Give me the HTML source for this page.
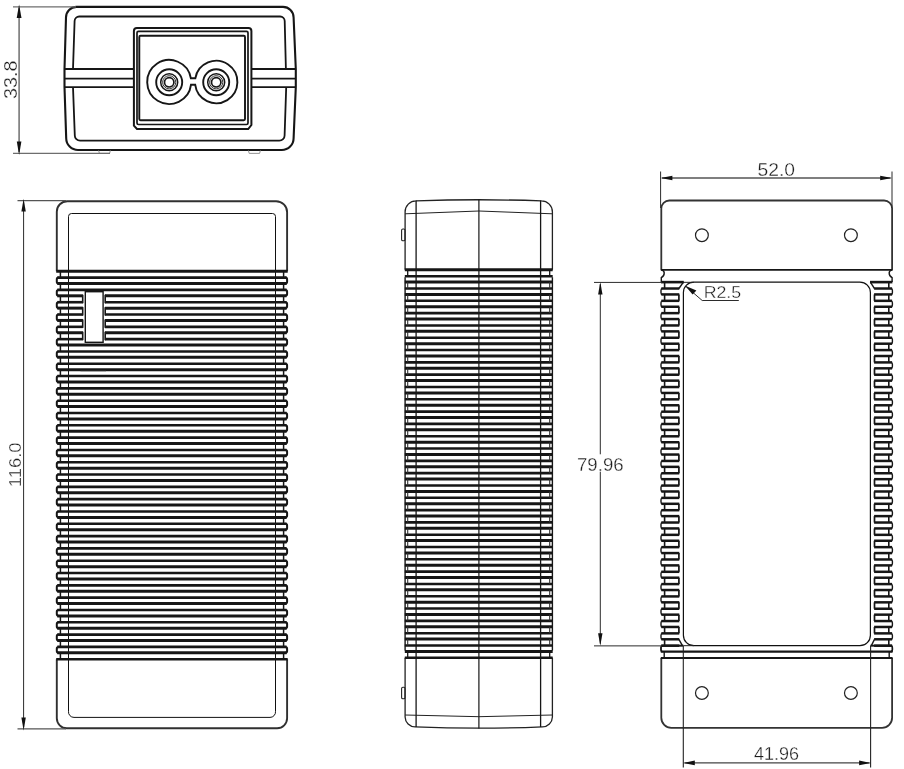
<!DOCTYPE html>
<html lang="en">
<head>
<meta charset="utf-8">
<title>Adapter outline drawing</title>
<style>
html,body{margin:0;padding:0;background:#fff;}
body{width:904px;height:769px;overflow:hidden;font-family:"Liberation Sans",sans-serif;}
svg{display:block;filter:grayscale(1);}
.t{font-family:"Liberation Sans",sans-serif;fill:#1c1c1c;stroke:#fff;stroke-width:0.3px;}
</style>
</head>
<body>
<svg width="904" height="769" viewBox="0 0 904 769">
<rect x="0" y="0" width="904" height="769" fill="#fff"/>
<path d="M76.5,6.9 L283,6.9 A10.6,10.6 0 0 1 293.6,17.5 L295.8,69 L295.8,87 L293.6,138.2 A11.8,11.8 0 0 1 281.8,150 L78,150 A11.8,11.8 0 0 1 66.2,138.2 L64.5,87 L64.5,69 L66,17.4 A10.5,10.5 0 0 1 76.5,6.9 Z" stroke="#161616" stroke-width="2.1" fill="none" />
<path d="M73,69 L74.6,21 A4.6,4.6 0 0 1 79.2,16.5 L280.2,16.5 A4.6,4.6 0 0 1 284.7,21 L285.9,69" stroke="#161616" stroke-width="1.8" fill="none" />
<path d="M73,87.2 L74.8,135.4 A5.3,5.3 0 0 0 80.1,140.7 L279.3,140.7 A5.3,5.3 0 0 0 284.6,135.4 L286.2,87.2" stroke="#161616" stroke-width="1.8" fill="none" />
<line x1="64.50" y1="69.00" x2="133.80" y2="69.00" stroke="#161616" stroke-width="1.8" />
<line x1="251.30" y1="69.00" x2="295.80" y2="69.00" stroke="#161616" stroke-width="1.8" />
<line x1="64.50" y1="78.70" x2="133.80" y2="78.70" stroke="#161616" stroke-width="1.8" />
<line x1="251.30" y1="78.70" x2="295.80" y2="78.70" stroke="#161616" stroke-width="1.8" />
<line x1="64.50" y1="87.20" x2="133.80" y2="87.20" stroke="#161616" stroke-width="1.8" />
<line x1="251.30" y1="87.20" x2="295.80" y2="87.20" stroke="#161616" stroke-width="1.8" />
<path d="M136.9,27.9 L248.4,27.9 Q251.4,27.9 251.4,30.9 L251.4,125 L248.2,129 L137,129 L133.9,125.6 L133.9,30.9 Q133.9,27.9 136.9,27.9 Z" stroke="#161616" stroke-width="2.0" fill="#fff" />
<rect x="137.0" y="31.3" width="111" height="93.2" rx="1.5" fill="none" stroke="#161616" stroke-width="1.7"/>
<rect x="139.3" y="35.8" width="105.7" height="84.5" rx="1.2" fill="none" stroke="#161616" stroke-width="1.9"/>
<path d="M190.89,78.3 L195.33,78.3 A21.2,21.2 0 1 1 195.17,84.7 L191.03,84.7 A22,22 0 1 1 190.89,78.3 Z" stroke="#161616" stroke-width="1.9" fill="none" />
<circle cx="169.2" cy="82.3" r="13" fill="none" stroke="#161616" stroke-width="1.9"/>
<circle cx="169.2" cy="82.3" r="8.5" fill="none" stroke="#161616" stroke-width="1.5"/>
<circle cx="169.2" cy="82.3" r="6.6" fill="none" stroke="#333" stroke-width="1.0"/>
<circle cx="169.2" cy="82.3" r="4.7" fill="none" stroke="#161616" stroke-width="1.7"/>
<circle cx="216.2" cy="82.3" r="13" fill="none" stroke="#161616" stroke-width="1.9"/>
<circle cx="216.2" cy="82.3" r="8.5" fill="none" stroke="#161616" stroke-width="1.5"/>
<circle cx="216.2" cy="82.3" r="6.6" fill="none" stroke="#333" stroke-width="1.0"/>
<circle cx="216.2" cy="82.3" r="4.7" fill="none" stroke="#161616" stroke-width="1.7"/>
<path d="M98.6,150.4 L99.4,153.4 L109.6,153.4 L110.4,150.4" stroke="#8a8a8a" stroke-width="0.9" fill="none" />
<path d="M248.4,150.4 L249.2,153.4 L259.6,153.4 L260.4,150.4" stroke="#8a8a8a" stroke-width="0.9" fill="none" />
<line x1="13.00" y1="6.90" x2="76.00" y2="6.90" stroke="#6e6e6e" stroke-width="1.3" />
<line x1="13.00" y1="153.30" x2="110.00" y2="153.30" stroke="#6e6e6e" stroke-width="1.3" />
<line x1="19.10" y1="8.00" x2="19.10" y2="152.00" stroke="#6e6e6e" stroke-width="1.5" />
<path d="M19.1,4.6 L21.5,18 L16.7,18 Z" fill="#111"/>
<path d="M19.1,155 L21.4,141.5 L16.8,141.5 Z" fill="#111"/>
<text class="t" font-size="18" text-anchor="middle" transform="translate(16.9,79.85) rotate(-90) scale(1.1,1)">33.8</text>
<path d="M56.8,271.2 L56.8,211.7 A10.5,10.5 0 0 1 67.3,201.2 L276.1,201.2 A11,11 0 0 1 287.1,212.2 L287.1,271.2" stroke="#303030" stroke-width="1.9" fill="none" />
<path d="M56.8,659.2000000000005 L56.8,718.3 A10,10 0 0 0 66.8,728.3 L277.1,728.3 A10,10 0 0 0 287.1,718.3 L287.1,659.2000000000005" stroke="#303030" stroke-width="1.9" fill="none" />
<path d="M68.5,711.3 L68.5,216.5 A3,3 0 0 1 71.5,213.5 L272.5,213.5 A3,3 0 0 1 275.5,216.5 L275.5,711.3 A5.5,5.5 0 0 1 270.0,717.4 L74.0,717.4 A5.5,5.5 0 0 1 68.5,711.3" stroke="#111" stroke-width="1.0" fill="none" />
<line x1="56.20" y1="271.20" x2="287.70" y2="271.20" stroke="#161616" stroke-width="3.0" />
<line x1="57.30" y1="277.59" x2="286.60" y2="277.59" stroke="#161616" stroke-width="2.6" />
<line x1="57.30" y1="283.51" x2="286.60" y2="283.51" stroke="#161616" stroke-width="3.0" />
<line x1="57.30" y1="289.90" x2="286.60" y2="289.90" stroke="#161616" stroke-width="2.6" />
<line x1="57.30" y1="295.82" x2="82.90" y2="295.82" stroke="#161616" stroke-width="3.0" />
<line x1="105.00" y1="295.82" x2="286.60" y2="295.82" stroke="#161616" stroke-width="3.0" />
<line x1="57.30" y1="302.21" x2="82.90" y2="302.21" stroke="#161616" stroke-width="2.6" />
<line x1="105.00" y1="302.21" x2="286.60" y2="302.21" stroke="#161616" stroke-width="2.6" />
<line x1="57.30" y1="308.13" x2="82.90" y2="308.13" stroke="#161616" stroke-width="3.0" />
<line x1="105.00" y1="308.13" x2="286.60" y2="308.13" stroke="#161616" stroke-width="3.0" />
<line x1="57.30" y1="314.52" x2="82.90" y2="314.52" stroke="#161616" stroke-width="2.6" />
<line x1="105.00" y1="314.52" x2="286.60" y2="314.52" stroke="#161616" stroke-width="2.6" />
<line x1="57.30" y1="320.44" x2="82.90" y2="320.44" stroke="#161616" stroke-width="3.0" />
<line x1="105.00" y1="320.44" x2="286.60" y2="320.44" stroke="#161616" stroke-width="3.0" />
<line x1="57.30" y1="326.83" x2="82.90" y2="326.83" stroke="#161616" stroke-width="2.6" />
<line x1="105.00" y1="326.83" x2="286.60" y2="326.83" stroke="#161616" stroke-width="2.6" />
<line x1="57.30" y1="332.75" x2="82.90" y2="332.75" stroke="#161616" stroke-width="3.0" />
<line x1="105.00" y1="332.75" x2="286.60" y2="332.75" stroke="#161616" stroke-width="3.0" />
<line x1="57.30" y1="339.14" x2="82.90" y2="339.14" stroke="#161616" stroke-width="2.6" />
<line x1="105.00" y1="339.14" x2="286.60" y2="339.14" stroke="#161616" stroke-width="2.6" />
<line x1="57.30" y1="345.06" x2="286.60" y2="345.06" stroke="#161616" stroke-width="3.0" />
<line x1="57.30" y1="351.45" x2="286.60" y2="351.45" stroke="#161616" stroke-width="2.6" />
<line x1="57.30" y1="357.37" x2="286.60" y2="357.37" stroke="#161616" stroke-width="3.0" />
<line x1="57.30" y1="363.76" x2="286.60" y2="363.76" stroke="#161616" stroke-width="2.6" />
<line x1="57.30" y1="369.68" x2="286.60" y2="369.68" stroke="#161616" stroke-width="3.0" />
<line x1="57.30" y1="376.07" x2="286.60" y2="376.07" stroke="#161616" stroke-width="2.6" />
<line x1="57.30" y1="381.99" x2="286.60" y2="381.99" stroke="#161616" stroke-width="3.0" />
<line x1="57.30" y1="388.38" x2="286.60" y2="388.38" stroke="#161616" stroke-width="2.6" />
<line x1="57.30" y1="394.30" x2="286.60" y2="394.30" stroke="#161616" stroke-width="3.0" />
<line x1="57.30" y1="400.69" x2="286.60" y2="400.69" stroke="#161616" stroke-width="2.6" />
<line x1="57.30" y1="406.61" x2="286.60" y2="406.61" stroke="#161616" stroke-width="3.0" />
<line x1="57.30" y1="413.00" x2="286.60" y2="413.00" stroke="#161616" stroke-width="2.6" />
<line x1="57.30" y1="418.92" x2="286.60" y2="418.92" stroke="#161616" stroke-width="3.0" />
<line x1="57.30" y1="425.31" x2="286.60" y2="425.31" stroke="#161616" stroke-width="2.6" />
<line x1="57.30" y1="431.23" x2="286.60" y2="431.23" stroke="#161616" stroke-width="3.0" />
<line x1="57.30" y1="437.62" x2="286.60" y2="437.62" stroke="#161616" stroke-width="2.6" />
<line x1="57.30" y1="443.54" x2="286.60" y2="443.54" stroke="#161616" stroke-width="3.0" />
<line x1="57.30" y1="449.93" x2="286.60" y2="449.93" stroke="#161616" stroke-width="2.6" />
<line x1="57.30" y1="455.85" x2="286.60" y2="455.85" stroke="#161616" stroke-width="3.0" />
<line x1="57.30" y1="462.24" x2="286.60" y2="462.24" stroke="#161616" stroke-width="2.6" />
<line x1="57.30" y1="468.16" x2="286.60" y2="468.16" stroke="#161616" stroke-width="3.0" />
<line x1="57.30" y1="474.55" x2="286.60" y2="474.55" stroke="#161616" stroke-width="2.6" />
<line x1="57.30" y1="480.47" x2="286.60" y2="480.47" stroke="#161616" stroke-width="3.0" />
<line x1="57.30" y1="486.86" x2="286.60" y2="486.86" stroke="#161616" stroke-width="2.6" />
<line x1="57.30" y1="492.78" x2="286.60" y2="492.78" stroke="#161616" stroke-width="3.0" />
<line x1="57.30" y1="499.17" x2="286.60" y2="499.17" stroke="#161616" stroke-width="2.6" />
<line x1="57.30" y1="505.09" x2="286.60" y2="505.09" stroke="#161616" stroke-width="3.0" />
<line x1="57.30" y1="511.48" x2="286.60" y2="511.48" stroke="#161616" stroke-width="2.6" />
<line x1="57.30" y1="517.40" x2="286.60" y2="517.40" stroke="#161616" stroke-width="3.0" />
<line x1="57.30" y1="523.79" x2="286.60" y2="523.79" stroke="#161616" stroke-width="2.6" />
<line x1="57.30" y1="529.71" x2="286.60" y2="529.71" stroke="#161616" stroke-width="3.0" />
<line x1="57.30" y1="536.10" x2="286.60" y2="536.10" stroke="#161616" stroke-width="2.6" />
<line x1="57.30" y1="542.02" x2="286.60" y2="542.02" stroke="#161616" stroke-width="3.0" />
<line x1="57.30" y1="548.41" x2="286.60" y2="548.41" stroke="#161616" stroke-width="2.6" />
<line x1="57.30" y1="554.33" x2="286.60" y2="554.33" stroke="#161616" stroke-width="3.0" />
<line x1="57.30" y1="560.72" x2="286.60" y2="560.72" stroke="#161616" stroke-width="2.6" />
<line x1="57.30" y1="566.64" x2="286.60" y2="566.64" stroke="#161616" stroke-width="3.0" />
<line x1="57.30" y1="573.03" x2="286.60" y2="573.03" stroke="#161616" stroke-width="2.6" />
<line x1="57.30" y1="578.95" x2="286.60" y2="578.95" stroke="#161616" stroke-width="3.0" />
<line x1="57.30" y1="585.34" x2="286.60" y2="585.34" stroke="#161616" stroke-width="2.6" />
<line x1="57.30" y1="591.26" x2="286.60" y2="591.26" stroke="#161616" stroke-width="3.0" />
<line x1="57.30" y1="597.65" x2="286.60" y2="597.65" stroke="#161616" stroke-width="2.6" />
<line x1="57.30" y1="603.57" x2="286.60" y2="603.57" stroke="#161616" stroke-width="3.0" />
<line x1="57.30" y1="609.96" x2="286.60" y2="609.96" stroke="#161616" stroke-width="2.6" />
<line x1="57.30" y1="615.88" x2="286.60" y2="615.88" stroke="#161616" stroke-width="3.0" />
<line x1="57.30" y1="622.27" x2="286.60" y2="622.27" stroke="#161616" stroke-width="2.6" />
<line x1="57.30" y1="628.19" x2="286.60" y2="628.19" stroke="#161616" stroke-width="3.0" />
<line x1="57.30" y1="634.58" x2="286.60" y2="634.58" stroke="#161616" stroke-width="2.6" />
<line x1="57.30" y1="640.50" x2="286.60" y2="640.50" stroke="#161616" stroke-width="3.0" />
<line x1="57.30" y1="646.89" x2="286.60" y2="646.89" stroke="#161616" stroke-width="2.6" />
<line x1="57.30" y1="652.81" x2="286.60" y2="652.81" stroke="#161616" stroke-width="3.0" />
<line x1="56.20" y1="659.20" x2="287.70" y2="659.20" stroke="#161616" stroke-width="2.6" />
<line x1="82.70" y1="294.82" x2="82.70" y2="303.21" stroke="#161616" stroke-width="1.6" />
<line x1="105.20" y1="294.82" x2="105.20" y2="303.21" stroke="#161616" stroke-width="1.6" />
<line x1="82.70" y1="307.13" x2="82.70" y2="315.52" stroke="#161616" stroke-width="1.6" />
<line x1="105.20" y1="307.13" x2="105.20" y2="315.52" stroke="#161616" stroke-width="1.6" />
<line x1="82.70" y1="319.44" x2="82.70" y2="327.83" stroke="#161616" stroke-width="1.6" />
<line x1="105.20" y1="319.44" x2="105.20" y2="327.83" stroke="#161616" stroke-width="1.6" />
<line x1="82.70" y1="331.75" x2="82.70" y2="340.14" stroke="#161616" stroke-width="1.6" />
<line x1="105.20" y1="331.75" x2="105.20" y2="340.14" stroke="#161616" stroke-width="1.6" />
<rect x="85.3" y="291.7" width="17.799999999999997" height="50.6" fill="#fff" stroke="#161616" stroke-width="1.4"/>
<line x1="60.40" y1="271.20" x2="60.40" y2="277.59" stroke="#161616" stroke-width="1.5" />
<line x1="283.60" y1="271.20" x2="283.60" y2="277.59" stroke="#161616" stroke-width="1.5" />
<path d="M58.599999999999994,277.58962509327637 Q56.8,277.58962509327637 56.8,279.3896250932764 L56.8,281.7100120937653 Q56.8,283.5100120937653 58.599999999999994,283.5100120937653" stroke="#161616" stroke-width="2.0" fill="none" />
<path d="M285.3,277.58962509327637 Q287.1,277.58962509327637 287.1,279.3896250932764 L287.1,281.7100120937653 Q287.1,283.5100120937653 285.3,283.5100120937653" stroke="#161616" stroke-width="2.0" fill="none" />
<line x1="60.40" y1="283.51" x2="60.40" y2="289.90" stroke="#161616" stroke-width="1.5" />
<line x1="283.60" y1="283.51" x2="283.60" y2="289.90" stroke="#161616" stroke-width="1.5" />
<path d="M58.599999999999994,289.89963718704166 Q56.8,289.89963718704166 56.8,291.6996371870417 L56.8,294.02002418753057 Q56.8,295.8200241875306 58.599999999999994,295.8200241875306" stroke="#161616" stroke-width="2.0" fill="none" />
<path d="M285.3,289.89963718704166 Q287.1,289.89963718704166 287.1,291.6996371870417 L287.1,294.02002418753057 Q287.1,295.8200241875306 285.3,295.8200241875306" stroke="#161616" stroke-width="2.0" fill="none" />
<line x1="60.40" y1="295.82" x2="60.40" y2="302.21" stroke="#161616" stroke-width="1.5" />
<line x1="283.60" y1="295.82" x2="283.60" y2="302.21" stroke="#161616" stroke-width="1.5" />
<path d="M58.599999999999994,302.20964928080696 Q56.8,302.20964928080696 56.8,304.00964928080697 L56.8,306.33003628129586 Q56.8,308.1300362812959 58.599999999999994,308.1300362812959" stroke="#161616" stroke-width="2.0" fill="none" />
<path d="M285.3,302.20964928080696 Q287.1,302.20964928080696 287.1,304.00964928080697 L287.1,306.33003628129586 Q287.1,308.1300362812959 285.3,308.1300362812959" stroke="#161616" stroke-width="2.0" fill="none" />
<line x1="60.40" y1="308.13" x2="60.40" y2="314.52" stroke="#161616" stroke-width="1.5" />
<line x1="283.60" y1="308.13" x2="283.60" y2="314.52" stroke="#161616" stroke-width="1.5" />
<path d="M58.599999999999994,314.51966137457225 Q56.8,314.51966137457225 56.8,316.31966137457226 L56.8,318.64004837506116 Q56.8,320.44004837506117 58.599999999999994,320.44004837506117" stroke="#161616" stroke-width="2.0" fill="none" />
<path d="M285.3,314.51966137457225 Q287.1,314.51966137457225 287.1,316.31966137457226 L287.1,318.64004837506116 Q287.1,320.44004837506117 285.3,320.44004837506117" stroke="#161616" stroke-width="2.0" fill="none" />
<line x1="60.40" y1="320.44" x2="60.40" y2="326.83" stroke="#161616" stroke-width="1.5" />
<line x1="283.60" y1="320.44" x2="283.60" y2="326.83" stroke="#161616" stroke-width="1.5" />
<path d="M58.599999999999994,326.82967346833755 Q56.8,326.82967346833755 56.8,328.62967346833756 L56.8,330.95006046882645 Q56.8,332.75006046882646 58.599999999999994,332.75006046882646" stroke="#161616" stroke-width="2.0" fill="none" />
<path d="M285.3,326.82967346833755 Q287.1,326.82967346833755 287.1,328.62967346833756 L287.1,330.95006046882645 Q287.1,332.75006046882646 285.3,332.75006046882646" stroke="#161616" stroke-width="2.0" fill="none" />
<line x1="60.40" y1="332.75" x2="60.40" y2="339.14" stroke="#161616" stroke-width="1.5" />
<line x1="283.60" y1="332.75" x2="283.60" y2="339.14" stroke="#161616" stroke-width="1.5" />
<path d="M58.599999999999994,339.13968556210284 Q56.8,339.13968556210284 56.8,340.93968556210285 L56.8,343.26007256259174 Q56.8,345.06007256259176 58.599999999999994,345.06007256259176" stroke="#161616" stroke-width="2.0" fill="none" />
<path d="M285.3,339.13968556210284 Q287.1,339.13968556210284 287.1,340.93968556210285 L287.1,343.26007256259174 Q287.1,345.06007256259176 285.3,345.06007256259176" stroke="#161616" stroke-width="2.0" fill="none" />
<line x1="60.40" y1="345.06" x2="60.40" y2="351.45" stroke="#161616" stroke-width="1.5" />
<line x1="283.60" y1="345.06" x2="283.60" y2="351.45" stroke="#161616" stroke-width="1.5" />
<path d="M58.599999999999994,351.44969765586814 Q56.8,351.44969765586814 56.8,353.24969765586815 L56.8,355.57008465635704 Q56.8,357.37008465635705 58.599999999999994,357.37008465635705" stroke="#161616" stroke-width="2.0" fill="none" />
<path d="M285.3,351.44969765586814 Q287.1,351.44969765586814 287.1,353.24969765586815 L287.1,355.57008465635704 Q287.1,357.37008465635705 285.3,357.37008465635705" stroke="#161616" stroke-width="2.0" fill="none" />
<line x1="60.40" y1="357.37" x2="60.40" y2="363.76" stroke="#161616" stroke-width="1.5" />
<line x1="283.60" y1="357.37" x2="283.60" y2="363.76" stroke="#161616" stroke-width="1.5" />
<path d="M58.599999999999994,363.75970974963343 Q56.8,363.75970974963343 56.8,365.55970974963344 L56.8,367.88009675012233 Q56.8,369.68009675012235 58.599999999999994,369.68009675012235" stroke="#161616" stroke-width="2.0" fill="none" />
<path d="M285.3,363.75970974963343 Q287.1,363.75970974963343 287.1,365.55970974963344 L287.1,367.88009675012233 Q287.1,369.68009675012235 285.3,369.68009675012235" stroke="#161616" stroke-width="2.0" fill="none" />
<line x1="60.40" y1="369.68" x2="60.40" y2="376.07" stroke="#161616" stroke-width="1.5" />
<line x1="283.60" y1="369.68" x2="283.60" y2="376.07" stroke="#161616" stroke-width="1.5" />
<path d="M58.599999999999994,376.0697218433987 Q56.8,376.0697218433987 56.8,377.86972184339874 L56.8,380.19010884388763 Q56.8,381.99010884388764 58.599999999999994,381.99010884388764" stroke="#161616" stroke-width="2.0" fill="none" />
<path d="M285.3,376.0697218433987 Q287.1,376.0697218433987 287.1,377.86972184339874 L287.1,380.19010884388763 Q287.1,381.99010884388764 285.3,381.99010884388764" stroke="#161616" stroke-width="2.0" fill="none" />
<line x1="60.40" y1="381.99" x2="60.40" y2="388.38" stroke="#161616" stroke-width="1.5" />
<line x1="283.60" y1="381.99" x2="283.60" y2="388.38" stroke="#161616" stroke-width="1.5" />
<path d="M58.599999999999994,388.379733937164 Q56.8,388.379733937164 56.8,390.17973393716403 L56.8,392.5001209376529 Q56.8,394.30012093765293 58.599999999999994,394.30012093765293" stroke="#161616" stroke-width="2.0" fill="none" />
<path d="M285.3,388.379733937164 Q287.1,388.379733937164 287.1,390.17973393716403 L287.1,392.5001209376529 Q287.1,394.30012093765293 285.3,394.30012093765293" stroke="#161616" stroke-width="2.0" fill="none" />
<line x1="60.40" y1="394.30" x2="60.40" y2="400.69" stroke="#161616" stroke-width="1.5" />
<line x1="283.60" y1="394.30" x2="283.60" y2="400.69" stroke="#161616" stroke-width="1.5" />
<path d="M58.599999999999994,400.6897460309293 Q56.8,400.6897460309293 56.8,402.4897460309293 L56.8,404.8101330314182 Q56.8,406.61013303141823 58.599999999999994,406.61013303141823" stroke="#161616" stroke-width="2.0" fill="none" />
<path d="M285.3,400.6897460309293 Q287.1,400.6897460309293 287.1,402.4897460309293 L287.1,404.8101330314182 Q287.1,406.61013303141823 285.3,406.61013303141823" stroke="#161616" stroke-width="2.0" fill="none" />
<line x1="60.40" y1="406.61" x2="60.40" y2="413.00" stroke="#161616" stroke-width="1.5" />
<line x1="283.60" y1="406.61" x2="283.60" y2="413.00" stroke="#161616" stroke-width="1.5" />
<path d="M58.599999999999994,412.9997581246946 Q56.8,412.9997581246946 56.8,414.7997581246946 L56.8,417.1201451251835 Q56.8,418.9201451251835 58.599999999999994,418.9201451251835" stroke="#161616" stroke-width="2.0" fill="none" />
<path d="M285.3,412.9997581246946 Q287.1,412.9997581246946 287.1,414.7997581246946 L287.1,417.1201451251835 Q287.1,418.9201451251835 285.3,418.9201451251835" stroke="#161616" stroke-width="2.0" fill="none" />
<line x1="60.40" y1="418.92" x2="60.40" y2="425.31" stroke="#161616" stroke-width="1.5" />
<line x1="283.60" y1="418.92" x2="283.60" y2="425.31" stroke="#161616" stroke-width="1.5" />
<path d="M58.599999999999994,425.3097702184599 Q56.8,425.3097702184599 56.8,427.1097702184599 L56.8,429.4301572189488 Q56.8,431.2301572189488 58.599999999999994,431.2301572189488" stroke="#161616" stroke-width="2.0" fill="none" />
<path d="M285.3,425.3097702184599 Q287.1,425.3097702184599 287.1,427.1097702184599 L287.1,429.4301572189488 Q287.1,431.2301572189488 285.3,431.2301572189488" stroke="#161616" stroke-width="2.0" fill="none" />
<line x1="60.40" y1="431.23" x2="60.40" y2="437.62" stroke="#161616" stroke-width="1.5" />
<line x1="283.60" y1="431.23" x2="283.60" y2="437.62" stroke="#161616" stroke-width="1.5" />
<path d="M58.599999999999994,437.6197823122252 Q56.8,437.6197823122252 56.8,439.4197823122252 L56.8,441.7401693127141 Q56.8,443.5401693127141 58.599999999999994,443.5401693127141" stroke="#161616" stroke-width="2.0" fill="none" />
<path d="M285.3,437.6197823122252 Q287.1,437.6197823122252 287.1,439.4197823122252 L287.1,441.7401693127141 Q287.1,443.5401693127141 285.3,443.5401693127141" stroke="#161616" stroke-width="2.0" fill="none" />
<line x1="60.40" y1="443.54" x2="60.40" y2="449.93" stroke="#161616" stroke-width="1.5" />
<line x1="283.60" y1="443.54" x2="283.60" y2="449.93" stroke="#161616" stroke-width="1.5" />
<path d="M58.599999999999994,449.9297944059905 Q56.8,449.9297944059905 56.8,451.7297944059905 L56.8,454.0501814064794 Q56.8,455.8501814064794 58.599999999999994,455.8501814064794" stroke="#161616" stroke-width="2.0" fill="none" />
<path d="M285.3,449.9297944059905 Q287.1,449.9297944059905 287.1,451.7297944059905 L287.1,454.0501814064794 Q287.1,455.8501814064794 285.3,455.8501814064794" stroke="#161616" stroke-width="2.0" fill="none" />
<line x1="60.40" y1="455.85" x2="60.40" y2="462.24" stroke="#161616" stroke-width="1.5" />
<line x1="283.60" y1="455.85" x2="283.60" y2="462.24" stroke="#161616" stroke-width="1.5" />
<path d="M58.599999999999994,462.2398064997558 Q56.8,462.2398064997558 56.8,464.0398064997558 L56.8,466.3601935002447 Q56.8,468.1601935002447 58.599999999999994,468.1601935002447" stroke="#161616" stroke-width="2.0" fill="none" />
<path d="M285.3,462.2398064997558 Q287.1,462.2398064997558 287.1,464.0398064997558 L287.1,466.3601935002447 Q287.1,468.1601935002447 285.3,468.1601935002447" stroke="#161616" stroke-width="2.0" fill="none" />
<line x1="60.40" y1="468.16" x2="60.40" y2="474.55" stroke="#161616" stroke-width="1.5" />
<line x1="283.60" y1="468.16" x2="283.60" y2="474.55" stroke="#161616" stroke-width="1.5" />
<path d="M58.599999999999994,474.5498185935211 Q56.8,474.5498185935211 56.8,476.3498185935211 L56.8,478.67020559401 Q56.8,480.47020559401 58.599999999999994,480.47020559401" stroke="#161616" stroke-width="2.0" fill="none" />
<path d="M285.3,474.5498185935211 Q287.1,474.5498185935211 287.1,476.3498185935211 L287.1,478.67020559401 Q287.1,480.47020559401 285.3,480.47020559401" stroke="#161616" stroke-width="2.0" fill="none" />
<line x1="60.40" y1="480.47" x2="60.40" y2="486.86" stroke="#161616" stroke-width="1.5" />
<line x1="283.60" y1="480.47" x2="283.60" y2="486.86" stroke="#161616" stroke-width="1.5" />
<path d="M58.599999999999994,486.8598306872864 Q56.8,486.8598306872864 56.8,488.6598306872864 L56.8,490.9802176877753 Q56.8,492.7802176877753 58.599999999999994,492.7802176877753" stroke="#161616" stroke-width="2.0" fill="none" />
<path d="M285.3,486.8598306872864 Q287.1,486.8598306872864 287.1,488.6598306872864 L287.1,490.9802176877753 Q287.1,492.7802176877753 285.3,492.7802176877753" stroke="#161616" stroke-width="2.0" fill="none" />
<line x1="60.40" y1="492.78" x2="60.40" y2="499.17" stroke="#161616" stroke-width="1.5" />
<line x1="283.60" y1="492.78" x2="283.60" y2="499.17" stroke="#161616" stroke-width="1.5" />
<path d="M58.599999999999994,499.16984278105167 Q56.8,499.16984278105167 56.8,500.9698427810517 L56.8,503.2902297815406 Q56.8,505.0902297815406 58.599999999999994,505.0902297815406" stroke="#161616" stroke-width="2.0" fill="none" />
<path d="M285.3,499.16984278105167 Q287.1,499.16984278105167 287.1,500.9698427810517 L287.1,503.2902297815406 Q287.1,505.0902297815406 285.3,505.0902297815406" stroke="#161616" stroke-width="2.0" fill="none" />
<line x1="60.40" y1="505.09" x2="60.40" y2="511.48" stroke="#161616" stroke-width="1.5" />
<line x1="283.60" y1="505.09" x2="283.60" y2="511.48" stroke="#161616" stroke-width="1.5" />
<path d="M58.599999999999994,511.47985487481697 Q56.8,511.47985487481697 56.8,513.2798548748169 L56.8,515.6002418753059 Q56.8,517.4002418753058 58.599999999999994,517.4002418753058" stroke="#161616" stroke-width="2.0" fill="none" />
<path d="M285.3,511.47985487481697 Q287.1,511.47985487481697 287.1,513.2798548748169 L287.1,515.6002418753059 Q287.1,517.4002418753058 285.3,517.4002418753058" stroke="#161616" stroke-width="2.0" fill="none" />
<line x1="60.40" y1="517.40" x2="60.40" y2="523.79" stroke="#161616" stroke-width="1.5" />
<line x1="283.60" y1="517.40" x2="283.60" y2="523.79" stroke="#161616" stroke-width="1.5" />
<path d="M58.599999999999994,523.7898669685823 Q56.8,523.7898669685823 56.8,525.5898669685822 L56.8,527.9102539690712 Q56.8,529.7102539690711 58.599999999999994,529.7102539690711" stroke="#161616" stroke-width="2.0" fill="none" />
<path d="M285.3,523.7898669685823 Q287.1,523.7898669685823 287.1,525.5898669685822 L287.1,527.9102539690712 Q287.1,529.7102539690711 285.3,529.7102539690711" stroke="#161616" stroke-width="2.0" fill="none" />
<line x1="60.40" y1="529.71" x2="60.40" y2="536.10" stroke="#161616" stroke-width="1.5" />
<line x1="283.60" y1="529.71" x2="283.60" y2="536.10" stroke="#161616" stroke-width="1.5" />
<path d="M58.599999999999994,536.0998790623476 Q56.8,536.0998790623476 56.8,537.8998790623475 L56.8,540.2202660628365 Q56.8,542.0202660628364 58.599999999999994,542.0202660628364" stroke="#161616" stroke-width="2.0" fill="none" />
<path d="M285.3,536.0998790623476 Q287.1,536.0998790623476 287.1,537.8998790623475 L287.1,540.2202660628365 Q287.1,542.0202660628364 285.3,542.0202660628364" stroke="#161616" stroke-width="2.0" fill="none" />
<line x1="60.40" y1="542.02" x2="60.40" y2="548.41" stroke="#161616" stroke-width="1.5" />
<line x1="283.60" y1="542.02" x2="283.60" y2="548.41" stroke="#161616" stroke-width="1.5" />
<path d="M58.599999999999994,548.4098911561128 Q56.8,548.4098911561128 56.8,550.2098911561128 L56.8,552.5302781566018 Q56.8,554.3302781566017 58.599999999999994,554.3302781566017" stroke="#161616" stroke-width="2.0" fill="none" />
<path d="M285.3,548.4098911561128 Q287.1,548.4098911561128 287.1,550.2098911561128 L287.1,552.5302781566018 Q287.1,554.3302781566017 285.3,554.3302781566017" stroke="#161616" stroke-width="2.0" fill="none" />
<line x1="60.40" y1="554.33" x2="60.40" y2="560.72" stroke="#161616" stroke-width="1.5" />
<line x1="283.60" y1="554.33" x2="283.60" y2="560.72" stroke="#161616" stroke-width="1.5" />
<path d="M58.599999999999994,560.7199032498781 Q56.8,560.7199032498781 56.8,562.5199032498781 L56.8,564.840290250367 Q56.8,566.640290250367 58.599999999999994,566.640290250367" stroke="#161616" stroke-width="2.0" fill="none" />
<path d="M285.3,560.7199032498781 Q287.1,560.7199032498781 287.1,562.5199032498781 L287.1,564.840290250367 Q287.1,566.640290250367 285.3,566.640290250367" stroke="#161616" stroke-width="2.0" fill="none" />
<line x1="60.40" y1="566.64" x2="60.40" y2="573.03" stroke="#161616" stroke-width="1.5" />
<line x1="283.60" y1="566.64" x2="283.60" y2="573.03" stroke="#161616" stroke-width="1.5" />
<path d="M58.599999999999994,573.0299153436434 Q56.8,573.0299153436434 56.8,574.8299153436434 L56.8,577.1503023441323 Q56.8,578.9503023441323 58.599999999999994,578.9503023441323" stroke="#161616" stroke-width="2.0" fill="none" />
<path d="M285.3,573.0299153436434 Q287.1,573.0299153436434 287.1,574.8299153436434 L287.1,577.1503023441323 Q287.1,578.9503023441323 285.3,578.9503023441323" stroke="#161616" stroke-width="2.0" fill="none" />
<line x1="60.40" y1="578.95" x2="60.40" y2="585.34" stroke="#161616" stroke-width="1.5" />
<line x1="283.60" y1="578.95" x2="283.60" y2="585.34" stroke="#161616" stroke-width="1.5" />
<path d="M58.599999999999994,585.3399274374087 Q56.8,585.3399274374087 56.8,587.1399274374087 L56.8,589.4603144378976 Q56.8,591.2603144378976 58.599999999999994,591.2603144378976" stroke="#161616" stroke-width="2.0" fill="none" />
<path d="M285.3,585.3399274374087 Q287.1,585.3399274374087 287.1,587.1399274374087 L287.1,589.4603144378976 Q287.1,591.2603144378976 285.3,591.2603144378976" stroke="#161616" stroke-width="2.0" fill="none" />
<line x1="60.40" y1="591.26" x2="60.40" y2="597.65" stroke="#161616" stroke-width="1.5" />
<line x1="283.60" y1="591.26" x2="283.60" y2="597.65" stroke="#161616" stroke-width="1.5" />
<path d="M58.599999999999994,597.649939531174 Q56.8,597.649939531174 56.8,599.449939531174 L56.8,601.7703265316629 Q56.8,603.5703265316629 58.599999999999994,603.5703265316629" stroke="#161616" stroke-width="2.0" fill="none" />
<path d="M285.3,597.649939531174 Q287.1,597.649939531174 287.1,599.449939531174 L287.1,601.7703265316629 Q287.1,603.5703265316629 285.3,603.5703265316629" stroke="#161616" stroke-width="2.0" fill="none" />
<line x1="60.40" y1="603.57" x2="60.40" y2="609.96" stroke="#161616" stroke-width="1.5" />
<line x1="283.60" y1="603.57" x2="283.60" y2="609.96" stroke="#161616" stroke-width="1.5" />
<path d="M58.599999999999994,609.9599516249393 Q56.8,609.9599516249393 56.8,611.7599516249393 L56.8,614.0803386254282 Q56.8,615.8803386254282 58.599999999999994,615.8803386254282" stroke="#161616" stroke-width="2.0" fill="none" />
<path d="M285.3,609.9599516249393 Q287.1,609.9599516249393 287.1,611.7599516249393 L287.1,614.0803386254282 Q287.1,615.8803386254282 285.3,615.8803386254282" stroke="#161616" stroke-width="2.0" fill="none" />
<line x1="60.40" y1="615.88" x2="60.40" y2="622.27" stroke="#161616" stroke-width="1.5" />
<line x1="283.60" y1="615.88" x2="283.60" y2="622.27" stroke="#161616" stroke-width="1.5" />
<path d="M58.599999999999994,622.2699637187046 Q56.8,622.2699637187046 56.8,624.0699637187046 L56.8,626.3903507191935 Q56.8,628.1903507191935 58.599999999999994,628.1903507191935" stroke="#161616" stroke-width="2.0" fill="none" />
<path d="M285.3,622.2699637187046 Q287.1,622.2699637187046 287.1,624.0699637187046 L287.1,626.3903507191935 Q287.1,628.1903507191935 285.3,628.1903507191935" stroke="#161616" stroke-width="2.0" fill="none" />
<line x1="60.40" y1="628.19" x2="60.40" y2="634.58" stroke="#161616" stroke-width="1.5" />
<line x1="283.60" y1="628.19" x2="283.60" y2="634.58" stroke="#161616" stroke-width="1.5" />
<path d="M58.599999999999994,634.5799758124699 Q56.8,634.5799758124699 56.8,636.3799758124699 L56.8,638.7003628129588 Q56.8,640.5003628129588 58.599999999999994,640.5003628129588" stroke="#161616" stroke-width="2.0" fill="none" />
<path d="M285.3,634.5799758124699 Q287.1,634.5799758124699 287.1,636.3799758124699 L287.1,638.7003628129588 Q287.1,640.5003628129588 285.3,640.5003628129588" stroke="#161616" stroke-width="2.0" fill="none" />
<line x1="60.40" y1="640.50" x2="60.40" y2="646.89" stroke="#161616" stroke-width="1.5" />
<line x1="283.60" y1="640.50" x2="283.60" y2="646.89" stroke="#161616" stroke-width="1.5" />
<path d="M58.599999999999994,646.8899879062352 Q56.8,646.8899879062352 56.8,648.6899879062352 L56.8,651.0103749067241 Q56.8,652.8103749067241 58.599999999999994,652.8103749067241" stroke="#161616" stroke-width="2.0" fill="none" />
<path d="M285.3,646.8899879062352 Q287.1,646.8899879062352 287.1,648.6899879062352 L287.1,651.0103749067241 Q287.1,652.8103749067241 285.3,652.8103749067241" stroke="#161616" stroke-width="2.0" fill="none" />
<line x1="60.40" y1="652.81" x2="60.40" y2="659.20" stroke="#161616" stroke-width="1.5" />
<line x1="283.60" y1="652.81" x2="283.60" y2="659.20" stroke="#161616" stroke-width="1.5" />
<line x1="80.50" y1="371.40" x2="106.00" y2="371.40" stroke="#a0a0a0" stroke-width="1.0" />
<line x1="17.50" y1="200.70" x2="66.00" y2="200.70" stroke="#555" stroke-width="1.2" />
<line x1="17.50" y1="728.80" x2="66.00" y2="728.80" stroke="#555" stroke-width="1.2" />
<line x1="23.60" y1="202.00" x2="23.60" y2="727.00" stroke="#2b2b2b" stroke-width="1.0" />
<path d="M23.6,198.8 L25.8,211.5 L21.4,211.5 Z" fill="#111"/>
<path d="M23.6,730.4 L25.8,717.5 L21.4,717.5 Z" fill="#111"/>
<text class="t" font-size="16.5" text-anchor="middle" transform="translate(21.1,464.8) rotate(-90) scale(1.12,1)">116.0</text>
<path d="M405.1,269.8 L405.1,212 A11,11 0 0 1 416.1,200.9 Q478.9,198.6 541.4,200.9 A11,11 0 0 1 552.4,212 L552.4,269.8" stroke="#222" stroke-width="1.3" fill="none" />
<path d="M405.1,213.8 L478.9,211 L552.4,213.8" stroke="#222" stroke-width="1.0" fill="none" />
<path d="M405.1,657.8000000000005 L405.1,717 A10,10 0 0 0 415.1,726.8 Q478.9,729.6 542.4,726.8 A10,10 0 0 0 552.4,717 L552.4,657.8000000000005" stroke="#222" stroke-width="1.3" fill="none" />
<path d="M405.1,715 L478.9,716.7 L552.4,715" stroke="#222" stroke-width="1.0" fill="none" />
<line x1="416.10" y1="200.60" x2="416.10" y2="727.00" stroke="#161616" stroke-width="1.3" />
<line x1="478.90" y1="199.40" x2="478.90" y2="728.40" stroke="#161616" stroke-width="1.2" />
<line x1="540.60" y1="200.60" x2="540.60" y2="727.00" stroke="#161616" stroke-width="1.3" />
<line x1="404.80" y1="269.80" x2="552.70" y2="269.80" stroke="#161616" stroke-width="3.0" />
<line x1="404.80" y1="276.19" x2="552.70" y2="276.19" stroke="#161616" stroke-width="2.6" />
<line x1="404.80" y1="282.11" x2="552.70" y2="282.11" stroke="#161616" stroke-width="3.0" />
<line x1="404.80" y1="288.50" x2="552.70" y2="288.50" stroke="#161616" stroke-width="2.6" />
<line x1="404.80" y1="294.42" x2="552.70" y2="294.42" stroke="#161616" stroke-width="3.0" />
<line x1="404.80" y1="300.81" x2="552.70" y2="300.81" stroke="#161616" stroke-width="2.6" />
<line x1="404.80" y1="306.73" x2="552.70" y2="306.73" stroke="#161616" stroke-width="3.0" />
<line x1="404.80" y1="313.12" x2="552.70" y2="313.12" stroke="#161616" stroke-width="2.6" />
<line x1="404.80" y1="319.04" x2="552.70" y2="319.04" stroke="#161616" stroke-width="3.0" />
<line x1="404.80" y1="325.43" x2="552.70" y2="325.43" stroke="#161616" stroke-width="2.6" />
<line x1="404.80" y1="331.35" x2="552.70" y2="331.35" stroke="#161616" stroke-width="3.0" />
<line x1="404.80" y1="337.74" x2="552.70" y2="337.74" stroke="#161616" stroke-width="2.6" />
<line x1="404.80" y1="343.66" x2="552.70" y2="343.66" stroke="#161616" stroke-width="3.0" />
<line x1="404.80" y1="350.05" x2="552.70" y2="350.05" stroke="#161616" stroke-width="2.6" />
<line x1="404.80" y1="355.97" x2="552.70" y2="355.97" stroke="#161616" stroke-width="3.0" />
<line x1="404.80" y1="362.36" x2="552.70" y2="362.36" stroke="#161616" stroke-width="2.6" />
<line x1="404.80" y1="368.28" x2="552.70" y2="368.28" stroke="#161616" stroke-width="3.0" />
<line x1="404.80" y1="374.67" x2="552.70" y2="374.67" stroke="#161616" stroke-width="2.6" />
<line x1="404.80" y1="380.59" x2="552.70" y2="380.59" stroke="#161616" stroke-width="3.0" />
<line x1="404.80" y1="386.98" x2="552.70" y2="386.98" stroke="#161616" stroke-width="2.6" />
<line x1="404.80" y1="392.90" x2="552.70" y2="392.90" stroke="#161616" stroke-width="3.0" />
<line x1="404.80" y1="399.29" x2="552.70" y2="399.29" stroke="#161616" stroke-width="2.6" />
<line x1="404.80" y1="405.21" x2="552.70" y2="405.21" stroke="#161616" stroke-width="3.0" />
<line x1="404.80" y1="411.60" x2="552.70" y2="411.60" stroke="#161616" stroke-width="2.6" />
<line x1="404.80" y1="417.52" x2="552.70" y2="417.52" stroke="#161616" stroke-width="3.0" />
<line x1="404.80" y1="423.91" x2="552.70" y2="423.91" stroke="#161616" stroke-width="2.6" />
<line x1="404.80" y1="429.83" x2="552.70" y2="429.83" stroke="#161616" stroke-width="3.0" />
<line x1="404.80" y1="436.22" x2="552.70" y2="436.22" stroke="#161616" stroke-width="2.6" />
<line x1="404.80" y1="442.14" x2="552.70" y2="442.14" stroke="#161616" stroke-width="3.0" />
<line x1="404.80" y1="448.53" x2="552.70" y2="448.53" stroke="#161616" stroke-width="2.6" />
<line x1="404.80" y1="454.45" x2="552.70" y2="454.45" stroke="#161616" stroke-width="3.0" />
<line x1="404.80" y1="460.84" x2="552.70" y2="460.84" stroke="#161616" stroke-width="2.6" />
<line x1="404.80" y1="466.76" x2="552.70" y2="466.76" stroke="#161616" stroke-width="3.0" />
<line x1="404.80" y1="473.15" x2="552.70" y2="473.15" stroke="#161616" stroke-width="2.6" />
<line x1="404.80" y1="479.07" x2="552.70" y2="479.07" stroke="#161616" stroke-width="3.0" />
<line x1="404.80" y1="485.46" x2="552.70" y2="485.46" stroke="#161616" stroke-width="2.6" />
<line x1="404.80" y1="491.38" x2="552.70" y2="491.38" stroke="#161616" stroke-width="3.0" />
<line x1="404.80" y1="497.77" x2="552.70" y2="497.77" stroke="#161616" stroke-width="2.6" />
<line x1="404.80" y1="503.69" x2="552.70" y2="503.69" stroke="#161616" stroke-width="3.0" />
<line x1="404.80" y1="510.08" x2="552.70" y2="510.08" stroke="#161616" stroke-width="2.6" />
<line x1="404.80" y1="516.00" x2="552.70" y2="516.00" stroke="#161616" stroke-width="3.0" />
<line x1="404.80" y1="522.39" x2="552.70" y2="522.39" stroke="#161616" stroke-width="2.6" />
<line x1="404.80" y1="528.31" x2="552.70" y2="528.31" stroke="#161616" stroke-width="3.0" />
<line x1="404.80" y1="534.70" x2="552.70" y2="534.70" stroke="#161616" stroke-width="2.6" />
<line x1="404.80" y1="540.62" x2="552.70" y2="540.62" stroke="#161616" stroke-width="3.0" />
<line x1="404.80" y1="547.01" x2="552.70" y2="547.01" stroke="#161616" stroke-width="2.6" />
<line x1="404.80" y1="552.93" x2="552.70" y2="552.93" stroke="#161616" stroke-width="3.0" />
<line x1="404.80" y1="559.32" x2="552.70" y2="559.32" stroke="#161616" stroke-width="2.6" />
<line x1="404.80" y1="565.24" x2="552.70" y2="565.24" stroke="#161616" stroke-width="3.0" />
<line x1="404.80" y1="571.63" x2="552.70" y2="571.63" stroke="#161616" stroke-width="2.6" />
<line x1="404.80" y1="577.55" x2="552.70" y2="577.55" stroke="#161616" stroke-width="3.0" />
<line x1="404.80" y1="583.94" x2="552.70" y2="583.94" stroke="#161616" stroke-width="2.6" />
<line x1="404.80" y1="589.86" x2="552.70" y2="589.86" stroke="#161616" stroke-width="3.0" />
<line x1="404.80" y1="596.25" x2="552.70" y2="596.25" stroke="#161616" stroke-width="2.6" />
<line x1="404.80" y1="602.17" x2="552.70" y2="602.17" stroke="#161616" stroke-width="3.0" />
<line x1="404.80" y1="608.56" x2="552.70" y2="608.56" stroke="#161616" stroke-width="2.6" />
<line x1="404.80" y1="614.48" x2="552.70" y2="614.48" stroke="#161616" stroke-width="3.0" />
<line x1="404.80" y1="620.87" x2="552.70" y2="620.87" stroke="#161616" stroke-width="2.6" />
<line x1="404.80" y1="626.79" x2="552.70" y2="626.79" stroke="#161616" stroke-width="3.0" />
<line x1="404.80" y1="633.18" x2="552.70" y2="633.18" stroke="#161616" stroke-width="2.6" />
<line x1="404.80" y1="639.10" x2="552.70" y2="639.10" stroke="#161616" stroke-width="3.0" />
<line x1="404.80" y1="645.49" x2="552.70" y2="645.49" stroke="#161616" stroke-width="2.6" />
<line x1="404.80" y1="651.41" x2="552.70" y2="651.41" stroke="#161616" stroke-width="3.0" />
<line x1="404.80" y1="657.80" x2="552.70" y2="657.80" stroke="#161616" stroke-width="2.6" />
<line x1="407.70" y1="269.80" x2="407.70" y2="276.19" stroke="#161616" stroke-width="1.3" />
<line x1="549.70" y1="269.80" x2="549.70" y2="276.19" stroke="#161616" stroke-width="1.3" />
<line x1="405.10" y1="277.19" x2="405.10" y2="650.41" stroke="#161616" stroke-width="1.4" />
<line x1="552.40" y1="277.19" x2="552.40" y2="650.41" stroke="#161616" stroke-width="1.4" />
<line x1="407.70" y1="282.11" x2="407.70" y2="288.50" stroke="#333" stroke-width="1.1" />
<line x1="549.70" y1="282.11" x2="549.70" y2="288.50" stroke="#333" stroke-width="1.1" />
<line x1="407.70" y1="294.42" x2="407.70" y2="300.81" stroke="#333" stroke-width="1.1" />
<line x1="549.70" y1="294.42" x2="549.70" y2="300.81" stroke="#333" stroke-width="1.1" />
<line x1="407.70" y1="306.73" x2="407.70" y2="313.12" stroke="#333" stroke-width="1.1" />
<line x1="549.70" y1="306.73" x2="549.70" y2="313.12" stroke="#333" stroke-width="1.1" />
<line x1="407.70" y1="319.04" x2="407.70" y2="325.43" stroke="#333" stroke-width="1.1" />
<line x1="549.70" y1="319.04" x2="549.70" y2="325.43" stroke="#333" stroke-width="1.1" />
<line x1="407.70" y1="331.35" x2="407.70" y2="337.74" stroke="#333" stroke-width="1.1" />
<line x1="549.70" y1="331.35" x2="549.70" y2="337.74" stroke="#333" stroke-width="1.1" />
<line x1="407.70" y1="343.66" x2="407.70" y2="350.05" stroke="#333" stroke-width="1.1" />
<line x1="549.70" y1="343.66" x2="549.70" y2="350.05" stroke="#333" stroke-width="1.1" />
<line x1="407.70" y1="355.97" x2="407.70" y2="362.36" stroke="#333" stroke-width="1.1" />
<line x1="549.70" y1="355.97" x2="549.70" y2="362.36" stroke="#333" stroke-width="1.1" />
<line x1="407.70" y1="368.28" x2="407.70" y2="374.67" stroke="#333" stroke-width="1.1" />
<line x1="549.70" y1="368.28" x2="549.70" y2="374.67" stroke="#333" stroke-width="1.1" />
<line x1="407.70" y1="380.59" x2="407.70" y2="386.98" stroke="#333" stroke-width="1.1" />
<line x1="549.70" y1="380.59" x2="549.70" y2="386.98" stroke="#333" stroke-width="1.1" />
<line x1="407.70" y1="392.90" x2="407.70" y2="399.29" stroke="#333" stroke-width="1.1" />
<line x1="549.70" y1="392.90" x2="549.70" y2="399.29" stroke="#333" stroke-width="1.1" />
<line x1="407.70" y1="405.21" x2="407.70" y2="411.60" stroke="#333" stroke-width="1.1" />
<line x1="549.70" y1="405.21" x2="549.70" y2="411.60" stroke="#333" stroke-width="1.1" />
<line x1="407.70" y1="417.52" x2="407.70" y2="423.91" stroke="#333" stroke-width="1.1" />
<line x1="549.70" y1="417.52" x2="549.70" y2="423.91" stroke="#333" stroke-width="1.1" />
<line x1="407.70" y1="429.83" x2="407.70" y2="436.22" stroke="#333" stroke-width="1.1" />
<line x1="549.70" y1="429.83" x2="549.70" y2="436.22" stroke="#333" stroke-width="1.1" />
<line x1="407.70" y1="442.14" x2="407.70" y2="448.53" stroke="#333" stroke-width="1.1" />
<line x1="549.70" y1="442.14" x2="549.70" y2="448.53" stroke="#333" stroke-width="1.1" />
<line x1="407.70" y1="454.45" x2="407.70" y2="460.84" stroke="#333" stroke-width="1.1" />
<line x1="549.70" y1="454.45" x2="549.70" y2="460.84" stroke="#333" stroke-width="1.1" />
<line x1="407.70" y1="466.76" x2="407.70" y2="473.15" stroke="#333" stroke-width="1.1" />
<line x1="549.70" y1="466.76" x2="549.70" y2="473.15" stroke="#333" stroke-width="1.1" />
<line x1="407.70" y1="479.07" x2="407.70" y2="485.46" stroke="#333" stroke-width="1.1" />
<line x1="549.70" y1="479.07" x2="549.70" y2="485.46" stroke="#333" stroke-width="1.1" />
<line x1="407.70" y1="491.38" x2="407.70" y2="497.77" stroke="#333" stroke-width="1.1" />
<line x1="549.70" y1="491.38" x2="549.70" y2="497.77" stroke="#333" stroke-width="1.1" />
<line x1="407.70" y1="503.69" x2="407.70" y2="510.08" stroke="#333" stroke-width="1.1" />
<line x1="549.70" y1="503.69" x2="549.70" y2="510.08" stroke="#333" stroke-width="1.1" />
<line x1="407.70" y1="516.00" x2="407.70" y2="522.39" stroke="#333" stroke-width="1.1" />
<line x1="549.70" y1="516.00" x2="549.70" y2="522.39" stroke="#333" stroke-width="1.1" />
<line x1="407.70" y1="528.31" x2="407.70" y2="534.70" stroke="#333" stroke-width="1.1" />
<line x1="549.70" y1="528.31" x2="549.70" y2="534.70" stroke="#333" stroke-width="1.1" />
<line x1="407.70" y1="540.62" x2="407.70" y2="547.01" stroke="#333" stroke-width="1.1" />
<line x1="549.70" y1="540.62" x2="549.70" y2="547.01" stroke="#333" stroke-width="1.1" />
<line x1="407.70" y1="552.93" x2="407.70" y2="559.32" stroke="#333" stroke-width="1.1" />
<line x1="549.70" y1="552.93" x2="549.70" y2="559.32" stroke="#333" stroke-width="1.1" />
<line x1="407.70" y1="565.24" x2="407.70" y2="571.63" stroke="#333" stroke-width="1.1" />
<line x1="549.70" y1="565.24" x2="549.70" y2="571.63" stroke="#333" stroke-width="1.1" />
<line x1="407.70" y1="577.55" x2="407.70" y2="583.94" stroke="#333" stroke-width="1.1" />
<line x1="549.70" y1="577.55" x2="549.70" y2="583.94" stroke="#333" stroke-width="1.1" />
<line x1="407.70" y1="589.86" x2="407.70" y2="596.25" stroke="#333" stroke-width="1.1" />
<line x1="549.70" y1="589.86" x2="549.70" y2="596.25" stroke="#333" stroke-width="1.1" />
<line x1="407.70" y1="602.17" x2="407.70" y2="608.56" stroke="#333" stroke-width="1.1" />
<line x1="549.70" y1="602.17" x2="549.70" y2="608.56" stroke="#333" stroke-width="1.1" />
<line x1="407.70" y1="614.48" x2="407.70" y2="620.87" stroke="#333" stroke-width="1.1" />
<line x1="549.70" y1="614.48" x2="549.70" y2="620.87" stroke="#333" stroke-width="1.1" />
<line x1="407.70" y1="626.79" x2="407.70" y2="633.18" stroke="#333" stroke-width="1.1" />
<line x1="549.70" y1="626.79" x2="549.70" y2="633.18" stroke="#333" stroke-width="1.1" />
<line x1="407.70" y1="639.10" x2="407.70" y2="645.49" stroke="#333" stroke-width="1.1" />
<line x1="549.70" y1="639.10" x2="549.70" y2="645.49" stroke="#333" stroke-width="1.1" />
<line x1="407.70" y1="651.41" x2="407.70" y2="657.80" stroke="#161616" stroke-width="1.3" />
<line x1="549.70" y1="651.41" x2="549.70" y2="657.80" stroke="#161616" stroke-width="1.3" />
<rect x="401.6" y="229" width="3.4" height="11.8" rx="1.3" fill="none" stroke="#222" stroke-width="1.1"/>
<rect x="401.6" y="687.2" width="3.4" height="11.6" rx="1.3" fill="none" stroke="#222" stroke-width="1.1"/>
<path d="M661.3,269.8 L661.3,208.5 A8,8 0 0 1 669.3,200.5 L884.1,200.5 A8,8 0 0 1 892.1,208.5 L892.1,269.8" stroke="#333" stroke-width="1.8" fill="none" />
<line x1="660.80" y1="269.80" x2="892.60" y2="269.80" stroke="#161616" stroke-width="1.7" />
<path d="M661.3,657.9999999999999 L661.3,717.8 A10,10 0 0 0 671.3,727.8 L882.1,727.8 A10,10 0 0 0 892.1,717.8 L892.1,657.9999999999999" stroke="#333" stroke-width="1.8" fill="none" />
<line x1="660.80" y1="658.00" x2="892.60" y2="658.00" stroke="#161616" stroke-width="2.2" />
<line x1="660.80" y1="651.61" x2="892.60" y2="651.61" stroke="#161616" stroke-width="2.2" />
<circle cx="701.9" cy="235.2" r="6.4" fill="none" stroke="#222" stroke-width="1.2"/>
<circle cx="701.9" cy="693.0" r="6.4" fill="none" stroke="#222" stroke-width="1.2"/>
<circle cx="850.9" cy="235.2" r="6.4" fill="none" stroke="#222" stroke-width="1.2"/>
<circle cx="850.9" cy="693.0" r="6.4" fill="none" stroke="#222" stroke-width="1.2"/>
<path d="M661.3,269.8 Q664.5,270.8 664.2,273.0 Q664.4000000000001,275.6929187144585 661.3,277.6929187144585 L661.3,282.1163574608239" stroke="#161616" stroke-width="1.4" fill="none" />
<path d="M892.1,269.8 Q888.9000000000001,270.8 889.2,273.0 Q889.0,275.6929187144585 892.1,277.6929187144585 L892.1,282.1163574608239" stroke="#161616" stroke-width="1.4" fill="none" />
<path d="M683.4,292.6163574608239 A10.5,10.5 0 0 1 693.9,282.1163574608239 L859.9,282.1163574608239 A10.5,10.5 0 0 1 870.4,292.6163574608239 L870.4,635.1836425391759 A10.5,10.5 0 0 1 859.9,645.6836425391759 L693.9,645.6836425391759 A10.5,10.5 0 0 1 683.4,635.1836425391759 Z" stroke="#111" stroke-width="1.2" fill="none" />
<line x1="683.40" y1="282.32" x2="693.90" y2="282.32" stroke="#222" stroke-width="1.0" />
<line x1="683.40" y1="645.68" x2="693.90" y2="645.68" stroke="#222" stroke-width="1.0" />
<line x1="661.00" y1="282.12" x2="683.80" y2="282.12" stroke="#161616" stroke-width="2.6" />
<line x1="870.00" y1="282.12" x2="892.40" y2="282.12" stroke="#161616" stroke-width="2.6" />
<line x1="661.30" y1="288.51" x2="679.30" y2="288.51" stroke="#161616" stroke-width="2.5" />
<line x1="874.10" y1="288.51" x2="892.10" y2="288.51" stroke="#161616" stroke-width="2.5" />
<line x1="661.30" y1="294.43" x2="679.30" y2="294.43" stroke="#161616" stroke-width="2.5" />
<line x1="874.10" y1="294.43" x2="892.10" y2="294.43" stroke="#161616" stroke-width="2.5" />
<line x1="661.30" y1="300.83" x2="679.30" y2="300.83" stroke="#161616" stroke-width="2.5" />
<line x1="874.10" y1="300.83" x2="892.10" y2="300.83" stroke="#161616" stroke-width="2.5" />
<line x1="661.30" y1="306.75" x2="679.30" y2="306.75" stroke="#161616" stroke-width="2.5" />
<line x1="874.10" y1="306.75" x2="892.10" y2="306.75" stroke="#161616" stroke-width="2.5" />
<line x1="661.30" y1="313.14" x2="679.30" y2="313.14" stroke="#161616" stroke-width="2.5" />
<line x1="874.10" y1="313.14" x2="892.10" y2="313.14" stroke="#161616" stroke-width="2.5" />
<line x1="661.30" y1="319.07" x2="679.30" y2="319.07" stroke="#161616" stroke-width="2.5" />
<line x1="874.10" y1="319.07" x2="892.10" y2="319.07" stroke="#161616" stroke-width="2.5" />
<line x1="661.30" y1="325.46" x2="679.30" y2="325.46" stroke="#161616" stroke-width="2.5" />
<line x1="874.10" y1="325.46" x2="892.10" y2="325.46" stroke="#161616" stroke-width="2.5" />
<line x1="661.30" y1="331.38" x2="679.30" y2="331.38" stroke="#161616" stroke-width="2.5" />
<line x1="874.10" y1="331.38" x2="892.10" y2="331.38" stroke="#161616" stroke-width="2.5" />
<line x1="661.30" y1="337.77" x2="679.30" y2="337.77" stroke="#161616" stroke-width="2.5" />
<line x1="874.10" y1="337.77" x2="892.10" y2="337.77" stroke="#161616" stroke-width="2.5" />
<line x1="661.30" y1="343.70" x2="679.30" y2="343.70" stroke="#161616" stroke-width="2.5" />
<line x1="874.10" y1="343.70" x2="892.10" y2="343.70" stroke="#161616" stroke-width="2.5" />
<line x1="661.30" y1="350.09" x2="679.30" y2="350.09" stroke="#161616" stroke-width="2.5" />
<line x1="874.10" y1="350.09" x2="892.10" y2="350.09" stroke="#161616" stroke-width="2.5" />
<line x1="661.30" y1="356.01" x2="679.30" y2="356.01" stroke="#161616" stroke-width="2.5" />
<line x1="874.10" y1="356.01" x2="892.10" y2="356.01" stroke="#161616" stroke-width="2.5" />
<line x1="661.30" y1="362.41" x2="679.30" y2="362.41" stroke="#161616" stroke-width="2.5" />
<line x1="874.10" y1="362.41" x2="892.10" y2="362.41" stroke="#161616" stroke-width="2.5" />
<line x1="661.30" y1="368.33" x2="679.30" y2="368.33" stroke="#161616" stroke-width="2.5" />
<line x1="874.10" y1="368.33" x2="892.10" y2="368.33" stroke="#161616" stroke-width="2.5" />
<line x1="661.30" y1="374.72" x2="679.30" y2="374.72" stroke="#161616" stroke-width="2.5" />
<line x1="874.10" y1="374.72" x2="892.10" y2="374.72" stroke="#161616" stroke-width="2.5" />
<line x1="661.30" y1="380.65" x2="679.30" y2="380.65" stroke="#161616" stroke-width="2.5" />
<line x1="874.10" y1="380.65" x2="892.10" y2="380.65" stroke="#161616" stroke-width="2.5" />
<line x1="661.30" y1="387.04" x2="679.30" y2="387.04" stroke="#161616" stroke-width="2.5" />
<line x1="874.10" y1="387.04" x2="892.10" y2="387.04" stroke="#161616" stroke-width="2.5" />
<line x1="661.30" y1="392.96" x2="679.30" y2="392.96" stroke="#161616" stroke-width="2.5" />
<line x1="874.10" y1="392.96" x2="892.10" y2="392.96" stroke="#161616" stroke-width="2.5" />
<line x1="661.30" y1="399.36" x2="679.30" y2="399.36" stroke="#161616" stroke-width="2.5" />
<line x1="874.10" y1="399.36" x2="892.10" y2="399.36" stroke="#161616" stroke-width="2.5" />
<line x1="661.30" y1="405.28" x2="679.30" y2="405.28" stroke="#161616" stroke-width="2.5" />
<line x1="874.10" y1="405.28" x2="892.10" y2="405.28" stroke="#161616" stroke-width="2.5" />
<line x1="661.30" y1="411.67" x2="679.30" y2="411.67" stroke="#161616" stroke-width="2.5" />
<line x1="874.10" y1="411.67" x2="892.10" y2="411.67" stroke="#161616" stroke-width="2.5" />
<line x1="661.30" y1="417.60" x2="679.30" y2="417.60" stroke="#161616" stroke-width="2.5" />
<line x1="874.10" y1="417.60" x2="892.10" y2="417.60" stroke="#161616" stroke-width="2.5" />
<line x1="661.30" y1="423.99" x2="679.30" y2="423.99" stroke="#161616" stroke-width="2.5" />
<line x1="874.10" y1="423.99" x2="892.10" y2="423.99" stroke="#161616" stroke-width="2.5" />
<line x1="661.30" y1="429.91" x2="679.30" y2="429.91" stroke="#161616" stroke-width="2.5" />
<line x1="874.10" y1="429.91" x2="892.10" y2="429.91" stroke="#161616" stroke-width="2.5" />
<line x1="661.30" y1="436.31" x2="679.30" y2="436.31" stroke="#161616" stroke-width="2.5" />
<line x1="874.10" y1="436.31" x2="892.10" y2="436.31" stroke="#161616" stroke-width="2.5" />
<line x1="661.30" y1="442.23" x2="679.30" y2="442.23" stroke="#161616" stroke-width="2.5" />
<line x1="874.10" y1="442.23" x2="892.10" y2="442.23" stroke="#161616" stroke-width="2.5" />
<line x1="661.30" y1="448.62" x2="679.30" y2="448.62" stroke="#161616" stroke-width="2.5" />
<line x1="874.10" y1="448.62" x2="892.10" y2="448.62" stroke="#161616" stroke-width="2.5" />
<line x1="661.30" y1="454.55" x2="679.30" y2="454.55" stroke="#161616" stroke-width="2.5" />
<line x1="874.10" y1="454.55" x2="892.10" y2="454.55" stroke="#161616" stroke-width="2.5" />
<line x1="661.30" y1="460.94" x2="679.30" y2="460.94" stroke="#161616" stroke-width="2.5" />
<line x1="874.10" y1="460.94" x2="892.10" y2="460.94" stroke="#161616" stroke-width="2.5" />
<line x1="661.30" y1="466.86" x2="679.30" y2="466.86" stroke="#161616" stroke-width="2.5" />
<line x1="874.10" y1="466.86" x2="892.10" y2="466.86" stroke="#161616" stroke-width="2.5" />
<line x1="661.30" y1="473.25" x2="679.30" y2="473.25" stroke="#161616" stroke-width="2.5" />
<line x1="874.10" y1="473.25" x2="892.10" y2="473.25" stroke="#161616" stroke-width="2.5" />
<line x1="661.30" y1="479.18" x2="679.30" y2="479.18" stroke="#161616" stroke-width="2.5" />
<line x1="874.10" y1="479.18" x2="892.10" y2="479.18" stroke="#161616" stroke-width="2.5" />
<line x1="661.30" y1="485.57" x2="679.30" y2="485.57" stroke="#161616" stroke-width="2.5" />
<line x1="874.10" y1="485.57" x2="892.10" y2="485.57" stroke="#161616" stroke-width="2.5" />
<line x1="661.30" y1="491.49" x2="679.30" y2="491.49" stroke="#161616" stroke-width="2.5" />
<line x1="874.10" y1="491.49" x2="892.10" y2="491.49" stroke="#161616" stroke-width="2.5" />
<line x1="661.30" y1="497.89" x2="679.30" y2="497.89" stroke="#161616" stroke-width="2.5" />
<line x1="874.10" y1="497.89" x2="892.10" y2="497.89" stroke="#161616" stroke-width="2.5" />
<line x1="661.30" y1="503.81" x2="679.30" y2="503.81" stroke="#161616" stroke-width="2.5" />
<line x1="874.10" y1="503.81" x2="892.10" y2="503.81" stroke="#161616" stroke-width="2.5" />
<line x1="661.30" y1="510.20" x2="679.30" y2="510.20" stroke="#161616" stroke-width="2.5" />
<line x1="874.10" y1="510.20" x2="892.10" y2="510.20" stroke="#161616" stroke-width="2.5" />
<line x1="661.30" y1="516.13" x2="679.30" y2="516.13" stroke="#161616" stroke-width="2.5" />
<line x1="874.10" y1="516.13" x2="892.10" y2="516.13" stroke="#161616" stroke-width="2.5" />
<line x1="661.30" y1="522.52" x2="679.30" y2="522.52" stroke="#161616" stroke-width="2.5" />
<line x1="874.10" y1="522.52" x2="892.10" y2="522.52" stroke="#161616" stroke-width="2.5" />
<line x1="661.30" y1="528.44" x2="679.30" y2="528.44" stroke="#161616" stroke-width="2.5" />
<line x1="874.10" y1="528.44" x2="892.10" y2="528.44" stroke="#161616" stroke-width="2.5" />
<line x1="661.30" y1="534.84" x2="679.30" y2="534.84" stroke="#161616" stroke-width="2.5" />
<line x1="874.10" y1="534.84" x2="892.10" y2="534.84" stroke="#161616" stroke-width="2.5" />
<line x1="661.30" y1="540.76" x2="679.30" y2="540.76" stroke="#161616" stroke-width="2.5" />
<line x1="874.10" y1="540.76" x2="892.10" y2="540.76" stroke="#161616" stroke-width="2.5" />
<line x1="661.30" y1="547.15" x2="679.30" y2="547.15" stroke="#161616" stroke-width="2.5" />
<line x1="874.10" y1="547.15" x2="892.10" y2="547.15" stroke="#161616" stroke-width="2.5" />
<line x1="661.30" y1="553.08" x2="679.30" y2="553.08" stroke="#161616" stroke-width="2.5" />
<line x1="874.10" y1="553.08" x2="892.10" y2="553.08" stroke="#161616" stroke-width="2.5" />
<line x1="661.30" y1="559.47" x2="679.30" y2="559.47" stroke="#161616" stroke-width="2.5" />
<line x1="874.10" y1="559.47" x2="892.10" y2="559.47" stroke="#161616" stroke-width="2.5" />
<line x1="661.30" y1="565.39" x2="679.30" y2="565.39" stroke="#161616" stroke-width="2.5" />
<line x1="874.10" y1="565.39" x2="892.10" y2="565.39" stroke="#161616" stroke-width="2.5" />
<line x1="661.30" y1="571.79" x2="679.30" y2="571.79" stroke="#161616" stroke-width="2.5" />
<line x1="874.10" y1="571.79" x2="892.10" y2="571.79" stroke="#161616" stroke-width="2.5" />
<line x1="661.30" y1="577.71" x2="679.30" y2="577.71" stroke="#161616" stroke-width="2.5" />
<line x1="874.10" y1="577.71" x2="892.10" y2="577.71" stroke="#161616" stroke-width="2.5" />
<line x1="661.30" y1="584.10" x2="679.30" y2="584.10" stroke="#161616" stroke-width="2.5" />
<line x1="874.10" y1="584.10" x2="892.10" y2="584.10" stroke="#161616" stroke-width="2.5" />
<line x1="661.30" y1="590.03" x2="679.30" y2="590.03" stroke="#161616" stroke-width="2.5" />
<line x1="874.10" y1="590.03" x2="892.10" y2="590.03" stroke="#161616" stroke-width="2.5" />
<line x1="661.30" y1="596.42" x2="679.30" y2="596.42" stroke="#161616" stroke-width="2.5" />
<line x1="874.10" y1="596.42" x2="892.10" y2="596.42" stroke="#161616" stroke-width="2.5" />
<line x1="661.30" y1="602.34" x2="679.30" y2="602.34" stroke="#161616" stroke-width="2.5" />
<line x1="874.10" y1="602.34" x2="892.10" y2="602.34" stroke="#161616" stroke-width="2.5" />
<line x1="661.30" y1="608.73" x2="679.30" y2="608.73" stroke="#161616" stroke-width="2.5" />
<line x1="874.10" y1="608.73" x2="892.10" y2="608.73" stroke="#161616" stroke-width="2.5" />
<line x1="661.30" y1="614.66" x2="679.30" y2="614.66" stroke="#161616" stroke-width="2.5" />
<line x1="874.10" y1="614.66" x2="892.10" y2="614.66" stroke="#161616" stroke-width="2.5" />
<line x1="661.30" y1="621.05" x2="679.30" y2="621.05" stroke="#161616" stroke-width="2.5" />
<line x1="874.10" y1="621.05" x2="892.10" y2="621.05" stroke="#161616" stroke-width="2.5" />
<line x1="661.30" y1="626.97" x2="679.30" y2="626.97" stroke="#161616" stroke-width="2.5" />
<line x1="874.10" y1="626.97" x2="892.10" y2="626.97" stroke="#161616" stroke-width="2.5" />
<line x1="661.30" y1="633.37" x2="679.30" y2="633.37" stroke="#161616" stroke-width="2.5" />
<line x1="874.10" y1="633.37" x2="892.10" y2="633.37" stroke="#161616" stroke-width="2.5" />
<line x1="661.30" y1="639.29" x2="679.30" y2="639.29" stroke="#161616" stroke-width="2.5" />
<line x1="874.10" y1="639.29" x2="892.10" y2="639.29" stroke="#161616" stroke-width="2.5" />
<line x1="661.30" y1="645.68" x2="679.30" y2="645.68" stroke="#161616" stroke-width="2.5" />
<line x1="874.10" y1="645.68" x2="892.10" y2="645.68" stroke="#161616" stroke-width="2.5" />
<line x1="661.30" y1="645.68" x2="683.40" y2="645.68" stroke="#161616" stroke-width="2.0" />
<line x1="870.40" y1="645.68" x2="892.10" y2="645.68" stroke="#161616" stroke-width="2.0" />
<line x1="678.90" y1="294.43" x2="678.90" y2="300.83" stroke="#161616" stroke-width="1.7" />
<line x1="874.50" y1="294.43" x2="874.50" y2="300.83" stroke="#161616" stroke-width="1.7" />
<line x1="678.90" y1="306.75" x2="678.90" y2="313.14" stroke="#161616" stroke-width="1.7" />
<line x1="874.50" y1="306.75" x2="874.50" y2="313.14" stroke="#161616" stroke-width="1.7" />
<line x1="678.90" y1="319.07" x2="678.90" y2="325.46" stroke="#161616" stroke-width="1.7" />
<line x1="874.50" y1="319.07" x2="874.50" y2="325.46" stroke="#161616" stroke-width="1.7" />
<line x1="678.90" y1="331.38" x2="678.90" y2="337.77" stroke="#161616" stroke-width="1.7" />
<line x1="874.50" y1="331.38" x2="874.50" y2="337.77" stroke="#161616" stroke-width="1.7" />
<line x1="678.90" y1="343.70" x2="678.90" y2="350.09" stroke="#161616" stroke-width="1.7" />
<line x1="874.50" y1="343.70" x2="874.50" y2="350.09" stroke="#161616" stroke-width="1.7" />
<line x1="678.90" y1="356.01" x2="678.90" y2="362.41" stroke="#161616" stroke-width="1.7" />
<line x1="874.50" y1="356.01" x2="874.50" y2="362.41" stroke="#161616" stroke-width="1.7" />
<line x1="678.90" y1="368.33" x2="678.90" y2="374.72" stroke="#161616" stroke-width="1.7" />
<line x1="874.50" y1="368.33" x2="874.50" y2="374.72" stroke="#161616" stroke-width="1.7" />
<line x1="678.90" y1="380.65" x2="678.90" y2="387.04" stroke="#161616" stroke-width="1.7" />
<line x1="874.50" y1="380.65" x2="874.50" y2="387.04" stroke="#161616" stroke-width="1.7" />
<line x1="678.90" y1="392.96" x2="678.90" y2="399.36" stroke="#161616" stroke-width="1.7" />
<line x1="874.50" y1="392.96" x2="874.50" y2="399.36" stroke="#161616" stroke-width="1.7" />
<line x1="678.90" y1="405.28" x2="678.90" y2="411.67" stroke="#161616" stroke-width="1.7" />
<line x1="874.50" y1="405.28" x2="874.50" y2="411.67" stroke="#161616" stroke-width="1.7" />
<line x1="678.90" y1="417.60" x2="678.90" y2="423.99" stroke="#161616" stroke-width="1.7" />
<line x1="874.50" y1="417.60" x2="874.50" y2="423.99" stroke="#161616" stroke-width="1.7" />
<line x1="678.90" y1="429.91" x2="678.90" y2="436.31" stroke="#161616" stroke-width="1.7" />
<line x1="874.50" y1="429.91" x2="874.50" y2="436.31" stroke="#161616" stroke-width="1.7" />
<line x1="678.90" y1="442.23" x2="678.90" y2="448.62" stroke="#161616" stroke-width="1.7" />
<line x1="874.50" y1="442.23" x2="874.50" y2="448.62" stroke="#161616" stroke-width="1.7" />
<line x1="678.90" y1="454.55" x2="678.90" y2="460.94" stroke="#161616" stroke-width="1.7" />
<line x1="874.50" y1="454.55" x2="874.50" y2="460.94" stroke="#161616" stroke-width="1.7" />
<line x1="678.90" y1="466.86" x2="678.90" y2="473.25" stroke="#161616" stroke-width="1.7" />
<line x1="874.50" y1="466.86" x2="874.50" y2="473.25" stroke="#161616" stroke-width="1.7" />
<line x1="678.90" y1="479.18" x2="678.90" y2="485.57" stroke="#161616" stroke-width="1.7" />
<line x1="874.50" y1="479.18" x2="874.50" y2="485.57" stroke="#161616" stroke-width="1.7" />
<line x1="678.90" y1="491.49" x2="678.90" y2="497.89" stroke="#161616" stroke-width="1.7" />
<line x1="874.50" y1="491.49" x2="874.50" y2="497.89" stroke="#161616" stroke-width="1.7" />
<line x1="678.90" y1="503.81" x2="678.90" y2="510.20" stroke="#161616" stroke-width="1.7" />
<line x1="874.50" y1="503.81" x2="874.50" y2="510.20" stroke="#161616" stroke-width="1.7" />
<line x1="678.90" y1="516.13" x2="678.90" y2="522.52" stroke="#161616" stroke-width="1.7" />
<line x1="874.50" y1="516.13" x2="874.50" y2="522.52" stroke="#161616" stroke-width="1.7" />
<line x1="678.90" y1="528.44" x2="678.90" y2="534.84" stroke="#161616" stroke-width="1.7" />
<line x1="874.50" y1="528.44" x2="874.50" y2="534.84" stroke="#161616" stroke-width="1.7" />
<line x1="678.90" y1="540.76" x2="678.90" y2="547.15" stroke="#161616" stroke-width="1.7" />
<line x1="874.50" y1="540.76" x2="874.50" y2="547.15" stroke="#161616" stroke-width="1.7" />
<line x1="678.90" y1="553.08" x2="678.90" y2="559.47" stroke="#161616" stroke-width="1.7" />
<line x1="874.50" y1="553.08" x2="874.50" y2="559.47" stroke="#161616" stroke-width="1.7" />
<line x1="678.90" y1="565.39" x2="678.90" y2="571.79" stroke="#161616" stroke-width="1.7" />
<line x1="874.50" y1="565.39" x2="874.50" y2="571.79" stroke="#161616" stroke-width="1.7" />
<line x1="678.90" y1="577.71" x2="678.90" y2="584.10" stroke="#161616" stroke-width="1.7" />
<line x1="874.50" y1="577.71" x2="874.50" y2="584.10" stroke="#161616" stroke-width="1.7" />
<line x1="678.90" y1="590.03" x2="678.90" y2="596.42" stroke="#161616" stroke-width="1.7" />
<line x1="874.50" y1="590.03" x2="874.50" y2="596.42" stroke="#161616" stroke-width="1.7" />
<line x1="678.90" y1="602.34" x2="678.90" y2="608.73" stroke="#161616" stroke-width="1.7" />
<line x1="874.50" y1="602.34" x2="874.50" y2="608.73" stroke="#161616" stroke-width="1.7" />
<line x1="678.90" y1="614.66" x2="678.90" y2="621.05" stroke="#161616" stroke-width="1.7" />
<line x1="874.50" y1="614.66" x2="874.50" y2="621.05" stroke="#161616" stroke-width="1.7" />
<line x1="678.90" y1="626.97" x2="678.90" y2="633.37" stroke="#161616" stroke-width="1.7" />
<line x1="874.50" y1="626.97" x2="874.50" y2="633.37" stroke="#161616" stroke-width="1.7" />
<line x1="683.40" y1="282.12" x2="678.90" y2="288.51" stroke="#161616" stroke-width="1.4" />
<line x1="870.40" y1="282.12" x2="874.50" y2="288.51" stroke="#161616" stroke-width="1.4" />
<line x1="678.90" y1="639.29" x2="682.40" y2="645.68" stroke="#161616" stroke-width="1.4" />
<line x1="874.50" y1="639.29" x2="871.40" y2="645.68" stroke="#161616" stroke-width="1.4" />
<line x1="664.60" y1="282.12" x2="664.60" y2="288.51" stroke="#161616" stroke-width="1.6" />
<line x1="888.80" y1="282.12" x2="888.80" y2="288.51" stroke="#161616" stroke-width="1.6" />
<path d="M662.5,288.50927617528237 Q661.0,288.50927617528237 661.0,290.3092761752824 L661.0,292.6327149216478 Q661.0,294.4327149216478 662.5,294.4327149216478" stroke="#161616" stroke-width="1.4" fill="none" />
<path d="M890.9,288.50927617528237 Q892.4,288.50927617528237 892.4,290.3092761752824 L892.4,292.6327149216478 Q892.4,294.4327149216478 890.9,294.4327149216478" stroke="#161616" stroke-width="1.4" fill="none" />
<line x1="664.60" y1="294.43" x2="664.60" y2="300.83" stroke="#161616" stroke-width="1.6" />
<line x1="888.80" y1="294.43" x2="888.80" y2="300.83" stroke="#161616" stroke-width="1.6" />
<path d="M662.5,300.82563363610626 Q661.0,300.82563363610626 661.0,302.6256336361063 L661.0,304.9490723824717 Q661.0,306.7490723824717 662.5,306.7490723824717" stroke="#161616" stroke-width="1.4" fill="none" />
<path d="M890.9,300.82563363610626 Q892.4,300.82563363610626 892.4,302.6256336361063 L892.4,304.9490723824717 Q892.4,306.7490723824717 890.9,306.7490723824717" stroke="#161616" stroke-width="1.4" fill="none" />
<line x1="664.60" y1="306.75" x2="664.60" y2="313.14" stroke="#161616" stroke-width="1.6" />
<line x1="888.80" y1="306.75" x2="888.80" y2="313.14" stroke="#161616" stroke-width="1.6" />
<path d="M662.5,313.14199109693016 Q661.0,313.14199109693016 661.0,314.94199109693017 L661.0,317.2654298432956 Q661.0,319.0654298432956 662.5,319.0654298432956" stroke="#161616" stroke-width="1.4" fill="none" />
<path d="M890.9,313.14199109693016 Q892.4,313.14199109693016 892.4,314.94199109693017 L892.4,317.2654298432956 Q892.4,319.0654298432956 890.9,319.0654298432956" stroke="#161616" stroke-width="1.4" fill="none" />
<line x1="664.60" y1="319.07" x2="664.60" y2="325.46" stroke="#161616" stroke-width="1.6" />
<line x1="888.80" y1="319.07" x2="888.80" y2="325.46" stroke="#161616" stroke-width="1.6" />
<path d="M662.5,325.45834855775405 Q661.0,325.45834855775405 661.0,327.25834855775406 L661.0,329.5817873041195 Q661.0,331.3817873041195 662.5,331.3817873041195" stroke="#161616" stroke-width="1.4" fill="none" />
<path d="M890.9,325.45834855775405 Q892.4,325.45834855775405 892.4,327.25834855775406 L892.4,329.5817873041195 Q892.4,331.3817873041195 890.9,331.3817873041195" stroke="#161616" stroke-width="1.4" fill="none" />
<line x1="664.60" y1="331.38" x2="664.60" y2="337.77" stroke="#161616" stroke-width="1.6" />
<line x1="888.80" y1="331.38" x2="888.80" y2="337.77" stroke="#161616" stroke-width="1.6" />
<path d="M662.5,337.77470601857794 Q661.0,337.77470601857794 661.0,339.57470601857796 L661.0,341.89814476494337 Q661.0,343.6981447649434 662.5,343.6981447649434" stroke="#161616" stroke-width="1.4" fill="none" />
<path d="M890.9,337.77470601857794 Q892.4,337.77470601857794 892.4,339.57470601857796 L892.4,341.89814476494337 Q892.4,343.6981447649434 890.9,343.6981447649434" stroke="#161616" stroke-width="1.4" fill="none" />
<line x1="664.60" y1="343.70" x2="664.60" y2="350.09" stroke="#161616" stroke-width="1.6" />
<line x1="888.80" y1="343.70" x2="888.80" y2="350.09" stroke="#161616" stroke-width="1.6" />
<path d="M662.5,350.09106347940184 Q661.0,350.09106347940184 661.0,351.89106347940185 L661.0,354.21450222576726 Q661.0,356.0145022257673 662.5,356.0145022257673" stroke="#161616" stroke-width="1.4" fill="none" />
<path d="M890.9,350.09106347940184 Q892.4,350.09106347940184 892.4,351.89106347940185 L892.4,354.21450222576726 Q892.4,356.0145022257673 890.9,356.0145022257673" stroke="#161616" stroke-width="1.4" fill="none" />
<line x1="664.60" y1="356.01" x2="664.60" y2="362.41" stroke="#161616" stroke-width="1.6" />
<line x1="888.80" y1="356.01" x2="888.80" y2="362.41" stroke="#161616" stroke-width="1.6" />
<path d="M662.5,362.40742094022573 Q661.0,362.40742094022573 661.0,364.20742094022575 L661.0,366.53085968659116 Q661.0,368.33085968659117 662.5,368.33085968659117" stroke="#161616" stroke-width="1.4" fill="none" />
<path d="M890.9,362.40742094022573 Q892.4,362.40742094022573 892.4,364.20742094022575 L892.4,366.53085968659116 Q892.4,368.33085968659117 890.9,368.33085968659117" stroke="#161616" stroke-width="1.4" fill="none" />
<line x1="664.60" y1="368.33" x2="664.60" y2="374.72" stroke="#161616" stroke-width="1.6" />
<line x1="888.80" y1="368.33" x2="888.80" y2="374.72" stroke="#161616" stroke-width="1.6" />
<path d="M662.5,374.72377840104963 Q661.0,374.72377840104963 661.0,376.52377840104964 L661.0,378.84721714741505 Q661.0,380.64721714741506 662.5,380.64721714741506" stroke="#161616" stroke-width="1.4" fill="none" />
<path d="M890.9,374.72377840104963 Q892.4,374.72377840104963 892.4,376.52377840104964 L892.4,378.84721714741505 Q892.4,380.64721714741506 890.9,380.64721714741506" stroke="#161616" stroke-width="1.4" fill="none" />
<line x1="664.60" y1="380.65" x2="664.60" y2="387.04" stroke="#161616" stroke-width="1.6" />
<line x1="888.80" y1="380.65" x2="888.80" y2="387.04" stroke="#161616" stroke-width="1.6" />
<path d="M662.5,387.0401358618735 Q661.0,387.0401358618735 661.0,388.84013586187353 L661.0,391.16357460823895 Q661.0,392.96357460823896 662.5,392.96357460823896" stroke="#161616" stroke-width="1.4" fill="none" />
<path d="M890.9,387.0401358618735 Q892.4,387.0401358618735 892.4,388.84013586187353 L892.4,391.16357460823895 Q892.4,392.96357460823896 890.9,392.96357460823896" stroke="#161616" stroke-width="1.4" fill="none" />
<line x1="664.60" y1="392.96" x2="664.60" y2="399.36" stroke="#161616" stroke-width="1.6" />
<line x1="888.80" y1="392.96" x2="888.80" y2="399.36" stroke="#161616" stroke-width="1.6" />
<path d="M662.5,399.3564933226974 Q661.0,399.3564933226974 661.0,401.15649332269743 L661.0,403.47993206906284 Q661.0,405.27993206906285 662.5,405.27993206906285" stroke="#161616" stroke-width="1.4" fill="none" />
<path d="M890.9,399.3564933226974 Q892.4,399.3564933226974 892.4,401.15649332269743 L892.4,403.47993206906284 Q892.4,405.27993206906285 890.9,405.27993206906285" stroke="#161616" stroke-width="1.4" fill="none" />
<line x1="664.60" y1="405.28" x2="664.60" y2="411.67" stroke="#161616" stroke-width="1.6" />
<line x1="888.80" y1="405.28" x2="888.80" y2="411.67" stroke="#161616" stroke-width="1.6" />
<path d="M662.5,411.6728507835213 Q661.0,411.6728507835213 661.0,413.4728507835213 L661.0,415.79628952988674 Q661.0,417.59628952988675 662.5,417.59628952988675" stroke="#161616" stroke-width="1.4" fill="none" />
<path d="M890.9,411.6728507835213 Q892.4,411.6728507835213 892.4,413.4728507835213 L892.4,415.79628952988674 Q892.4,417.59628952988675 890.9,417.59628952988675" stroke="#161616" stroke-width="1.4" fill="none" />
<line x1="664.60" y1="417.60" x2="664.60" y2="423.99" stroke="#161616" stroke-width="1.6" />
<line x1="888.80" y1="417.60" x2="888.80" y2="423.99" stroke="#161616" stroke-width="1.6" />
<path d="M662.5,423.9892082443452 Q661.0,423.9892082443452 661.0,425.7892082443452 L661.0,428.11264699071063 Q661.0,429.91264699071064 662.5,429.91264699071064" stroke="#161616" stroke-width="1.4" fill="none" />
<path d="M890.9,423.9892082443452 Q892.4,423.9892082443452 892.4,425.7892082443452 L892.4,428.11264699071063 Q892.4,429.91264699071064 890.9,429.91264699071064" stroke="#161616" stroke-width="1.4" fill="none" />
<line x1="664.60" y1="429.91" x2="664.60" y2="436.31" stroke="#161616" stroke-width="1.6" />
<line x1="888.80" y1="429.91" x2="888.80" y2="436.31" stroke="#161616" stroke-width="1.6" />
<path d="M662.5,436.3055657051691 Q661.0,436.3055657051691 661.0,438.1055657051691 L661.0,440.4290044515345 Q661.0,442.22900445153454 662.5,442.22900445153454" stroke="#161616" stroke-width="1.4" fill="none" />
<path d="M890.9,436.3055657051691 Q892.4,436.3055657051691 892.4,438.1055657051691 L892.4,440.4290044515345 Q892.4,442.22900445153454 890.9,442.22900445153454" stroke="#161616" stroke-width="1.4" fill="none" />
<line x1="664.60" y1="442.23" x2="664.60" y2="448.62" stroke="#161616" stroke-width="1.6" />
<line x1="888.80" y1="442.23" x2="888.80" y2="448.62" stroke="#161616" stroke-width="1.6" />
<path d="M662.5,448.621923165993 Q661.0,448.621923165993 661.0,450.421923165993 L661.0,452.7453619123584 Q661.0,454.54536191235843 662.5,454.54536191235843" stroke="#161616" stroke-width="1.4" fill="none" />
<path d="M890.9,448.621923165993 Q892.4,448.621923165993 892.4,450.421923165993 L892.4,452.7453619123584 Q892.4,454.54536191235843 890.9,454.54536191235843" stroke="#161616" stroke-width="1.4" fill="none" />
<line x1="664.60" y1="454.55" x2="664.60" y2="460.94" stroke="#161616" stroke-width="1.6" />
<line x1="888.80" y1="454.55" x2="888.80" y2="460.94" stroke="#161616" stroke-width="1.6" />
<path d="M662.5,460.9382806268169 Q661.0,460.9382806268169 661.0,462.7382806268169 L661.0,465.0617193731823 Q661.0,466.8617193731823 662.5,466.8617193731823" stroke="#161616" stroke-width="1.4" fill="none" />
<path d="M890.9,460.9382806268169 Q892.4,460.9382806268169 892.4,462.7382806268169 L892.4,465.0617193731823 Q892.4,466.8617193731823 890.9,466.8617193731823" stroke="#161616" stroke-width="1.4" fill="none" />
<line x1="664.60" y1="466.86" x2="664.60" y2="473.25" stroke="#161616" stroke-width="1.6" />
<line x1="888.80" y1="466.86" x2="888.80" y2="473.25" stroke="#161616" stroke-width="1.6" />
<path d="M662.5,473.2546380876408 Q661.0,473.2546380876408 661.0,475.0546380876408 L661.0,477.3780768340062 Q661.0,479.1780768340062 662.5,479.1780768340062" stroke="#161616" stroke-width="1.4" fill="none" />
<path d="M890.9,473.2546380876408 Q892.4,473.2546380876408 892.4,475.0546380876408 L892.4,477.3780768340062 Q892.4,479.1780768340062 890.9,479.1780768340062" stroke="#161616" stroke-width="1.4" fill="none" />
<line x1="664.60" y1="479.18" x2="664.60" y2="485.57" stroke="#161616" stroke-width="1.6" />
<line x1="888.80" y1="479.18" x2="888.80" y2="485.57" stroke="#161616" stroke-width="1.6" />
<path d="M662.5,485.5709955484647 Q661.0,485.5709955484647 661.0,487.3709955484647 L661.0,489.6944342948301 Q661.0,491.4944342948301 662.5,491.4944342948301" stroke="#161616" stroke-width="1.4" fill="none" />
<path d="M890.9,485.5709955484647 Q892.4,485.5709955484647 892.4,487.3709955484647 L892.4,489.6944342948301 Q892.4,491.4944342948301 890.9,491.4944342948301" stroke="#161616" stroke-width="1.4" fill="none" />
<line x1="664.60" y1="491.49" x2="664.60" y2="497.89" stroke="#161616" stroke-width="1.6" />
<line x1="888.80" y1="491.49" x2="888.80" y2="497.89" stroke="#161616" stroke-width="1.6" />
<path d="M662.5,497.8873530092886 Q661.0,497.8873530092886 661.0,499.6873530092886 L661.0,502.010791755654 Q661.0,503.810791755654 662.5,503.810791755654" stroke="#161616" stroke-width="1.4" fill="none" />
<path d="M890.9,497.8873530092886 Q892.4,497.8873530092886 892.4,499.6873530092886 L892.4,502.010791755654 Q892.4,503.810791755654 890.9,503.810791755654" stroke="#161616" stroke-width="1.4" fill="none" />
<line x1="664.60" y1="503.81" x2="664.60" y2="510.20" stroke="#161616" stroke-width="1.6" />
<line x1="888.80" y1="503.81" x2="888.80" y2="510.20" stroke="#161616" stroke-width="1.6" />
<path d="M662.5,510.20371047011247 Q661.0,510.20371047011247 661.0,512.0037104701124 L661.0,514.327149216478 Q661.0,516.127149216478 662.5,516.127149216478" stroke="#161616" stroke-width="1.4" fill="none" />
<path d="M890.9,510.20371047011247 Q892.4,510.20371047011247 892.4,512.0037104701124 L892.4,514.327149216478 Q892.4,516.127149216478 890.9,516.127149216478" stroke="#161616" stroke-width="1.4" fill="none" />
<line x1="664.60" y1="516.13" x2="664.60" y2="522.52" stroke="#161616" stroke-width="1.6" />
<line x1="888.80" y1="516.13" x2="888.80" y2="522.52" stroke="#161616" stroke-width="1.6" />
<path d="M662.5,522.5200679309364 Q661.0,522.5200679309364 661.0,524.3200679309364 L661.0,526.643506677302 Q661.0,528.4435066773019 662.5,528.4435066773019" stroke="#161616" stroke-width="1.4" fill="none" />
<path d="M890.9,522.5200679309364 Q892.4,522.5200679309364 892.4,524.3200679309364 L892.4,526.643506677302 Q892.4,528.4435066773019 890.9,528.4435066773019" stroke="#161616" stroke-width="1.4" fill="none" />
<line x1="664.60" y1="528.44" x2="664.60" y2="534.84" stroke="#161616" stroke-width="1.6" />
<line x1="888.80" y1="528.44" x2="888.80" y2="534.84" stroke="#161616" stroke-width="1.6" />
<path d="M662.5,534.8364253917604 Q661.0,534.8364253917604 661.0,536.6364253917603 L661.0,538.9598641381259 Q661.0,540.7598641381259 662.5,540.7598641381259" stroke="#161616" stroke-width="1.4" fill="none" />
<path d="M890.9,534.8364253917604 Q892.4,534.8364253917604 892.4,536.6364253917603 L892.4,538.9598641381259 Q892.4,540.7598641381259 890.9,540.7598641381259" stroke="#161616" stroke-width="1.4" fill="none" />
<line x1="664.60" y1="540.76" x2="664.60" y2="547.15" stroke="#161616" stroke-width="1.6" />
<line x1="888.80" y1="540.76" x2="888.80" y2="547.15" stroke="#161616" stroke-width="1.6" />
<path d="M662.5,547.1527828525843 Q661.0,547.1527828525843 661.0,548.9527828525843 L661.0,551.2762215989499 Q661.0,553.0762215989498 662.5,553.0762215989498" stroke="#161616" stroke-width="1.4" fill="none" />
<path d="M890.9,547.1527828525843 Q892.4,547.1527828525843 892.4,548.9527828525843 L892.4,551.2762215989499 Q892.4,553.0762215989498 890.9,553.0762215989498" stroke="#161616" stroke-width="1.4" fill="none" />
<line x1="664.60" y1="553.08" x2="664.60" y2="559.47" stroke="#161616" stroke-width="1.6" />
<line x1="888.80" y1="553.08" x2="888.80" y2="559.47" stroke="#161616" stroke-width="1.6" />
<path d="M662.5,559.4691403134083 Q661.0,559.4691403134083 661.0,561.2691403134082 L661.0,563.5925790597738 Q661.0,565.3925790597738 662.5,565.3925790597738" stroke="#161616" stroke-width="1.4" fill="none" />
<path d="M890.9,559.4691403134083 Q892.4,559.4691403134083 892.4,561.2691403134082 L892.4,563.5925790597738 Q892.4,565.3925790597738 890.9,565.3925790597738" stroke="#161616" stroke-width="1.4" fill="none" />
<line x1="664.60" y1="565.39" x2="664.60" y2="571.79" stroke="#161616" stroke-width="1.6" />
<line x1="888.80" y1="565.39" x2="888.80" y2="571.79" stroke="#161616" stroke-width="1.6" />
<path d="M662.5,571.7854977742322 Q661.0,571.7854977742322 661.0,573.5854977742322 L661.0,575.9089365205978 Q661.0,577.7089365205977 662.5,577.7089365205977" stroke="#161616" stroke-width="1.4" fill="none" />
<path d="M890.9,571.7854977742322 Q892.4,571.7854977742322 892.4,573.5854977742322 L892.4,575.9089365205978 Q892.4,577.7089365205977 890.9,577.7089365205977" stroke="#161616" stroke-width="1.4" fill="none" />
<line x1="664.60" y1="577.71" x2="664.60" y2="584.10" stroke="#161616" stroke-width="1.6" />
<line x1="888.80" y1="577.71" x2="888.80" y2="584.10" stroke="#161616" stroke-width="1.6" />
<path d="M662.5,584.1018552350562 Q661.0,584.1018552350562 661.0,585.9018552350561 L661.0,588.2252939814217 Q661.0,590.0252939814217 662.5,590.0252939814217" stroke="#161616" stroke-width="1.4" fill="none" />
<path d="M890.9,584.1018552350562 Q892.4,584.1018552350562 892.4,585.9018552350561 L892.4,588.2252939814217 Q892.4,590.0252939814217 890.9,590.0252939814217" stroke="#161616" stroke-width="1.4" fill="none" />
<line x1="664.60" y1="590.03" x2="664.60" y2="596.42" stroke="#161616" stroke-width="1.6" />
<line x1="888.80" y1="590.03" x2="888.80" y2="596.42" stroke="#161616" stroke-width="1.6" />
<path d="M662.5,596.4182126958801 Q661.0,596.4182126958801 661.0,598.2182126958801 L661.0,600.5416514422457 Q661.0,602.3416514422456 662.5,602.3416514422456" stroke="#161616" stroke-width="1.4" fill="none" />
<path d="M890.9,596.4182126958801 Q892.4,596.4182126958801 892.4,598.2182126958801 L892.4,600.5416514422457 Q892.4,602.3416514422456 890.9,602.3416514422456" stroke="#161616" stroke-width="1.4" fill="none" />
<line x1="664.60" y1="602.34" x2="664.60" y2="608.73" stroke="#161616" stroke-width="1.6" />
<line x1="888.80" y1="602.34" x2="888.80" y2="608.73" stroke="#161616" stroke-width="1.6" />
<path d="M662.5,608.7345701567041 Q661.0,608.7345701567041 661.0,610.534570156704 L661.0,612.8580089030696 Q661.0,614.6580089030696 662.5,614.6580089030696" stroke="#161616" stroke-width="1.4" fill="none" />
<path d="M890.9,608.7345701567041 Q892.4,608.7345701567041 892.4,610.534570156704 L892.4,612.8580089030696 Q892.4,614.6580089030696 890.9,614.6580089030696" stroke="#161616" stroke-width="1.4" fill="none" />
<line x1="664.60" y1="614.66" x2="664.60" y2="621.05" stroke="#161616" stroke-width="1.6" />
<line x1="888.80" y1="614.66" x2="888.80" y2="621.05" stroke="#161616" stroke-width="1.6" />
<path d="M662.5,621.050927617528 Q661.0,621.050927617528 661.0,622.850927617528 L661.0,625.1743663638936 Q661.0,626.9743663638935 662.5,626.9743663638935" stroke="#161616" stroke-width="1.4" fill="none" />
<path d="M890.9,621.050927617528 Q892.4,621.050927617528 892.4,622.850927617528 L892.4,625.1743663638936 Q892.4,626.9743663638935 890.9,626.9743663638935" stroke="#161616" stroke-width="1.4" fill="none" />
<line x1="664.60" y1="626.97" x2="664.60" y2="633.37" stroke="#161616" stroke-width="1.6" />
<line x1="888.80" y1="626.97" x2="888.80" y2="633.37" stroke="#161616" stroke-width="1.6" />
<path d="M662.5,633.367285078352 Q661.0,633.367285078352 661.0,635.1672850783519 L661.0,637.4907238247175 Q661.0,639.2907238247175 662.5,639.2907238247175" stroke="#161616" stroke-width="1.4" fill="none" />
<path d="M890.9,633.367285078352 Q892.4,633.367285078352 892.4,635.1672850783519 L892.4,637.4907238247175 Q892.4,639.2907238247175 890.9,639.2907238247175" stroke="#161616" stroke-width="1.4" fill="none" />
<line x1="664.60" y1="639.29" x2="664.60" y2="645.68" stroke="#161616" stroke-width="1.6" />
<line x1="888.80" y1="639.29" x2="888.80" y2="645.68" stroke="#161616" stroke-width="1.6" />
<path d="M662.5,645.6836425391759 Q661.0,645.6836425391759 661.0,647.4836425391759 L661.0,649.8070812855415 Q661.0,651.6070812855414 662.5,651.6070812855414" stroke="#161616" stroke-width="1.4" fill="none" />
<path d="M890.9,645.6836425391759 Q892.4,645.6836425391759 892.4,647.4836425391759 L892.4,649.8070812855415 Q892.4,651.6070812855414 890.9,651.6070812855414" stroke="#161616" stroke-width="1.4" fill="none" />
<path d="M662.5,645.6836425391759 Q661.0,645.6836425391759 661.0,647.4836425391759 L661.0,650.1070812855414 Q661.0,651.6070812855414 662.5,651.6070812855414" stroke="#161616" stroke-width="1.4" fill="none" />
<path d="M890.9,645.6836425391759 Q892.4,645.6836425391759 892.4,647.4836425391759 L892.4,650.1070812855414 Q892.4,651.6070812855414 890.9,651.6070812855414" stroke="#161616" stroke-width="1.4" fill="none" />
<line x1="664.20" y1="651.61" x2="664.20" y2="658.00" stroke="#161616" stroke-width="1.4" />
<line x1="889.20" y1="651.61" x2="889.20" y2="658.00" stroke="#161616" stroke-width="1.4" />
<line x1="660.60" y1="171.50" x2="660.60" y2="208.00" stroke="#2b2b2b" stroke-width="1.0" />
<line x1="892.00" y1="171.50" x2="892.00" y2="208.00" stroke="#2b2b2b" stroke-width="1.0" />
<line x1="662.00" y1="178.00" x2="890.50" y2="178.00" stroke="#555" stroke-width="1.3" />
<path d="M660.6,178 L672.4,175.7 L672.4,180.3 Z" fill="#111"/>
<path d="M892,178 L880.2,175.7 L880.2,180.3 Z" fill="#111"/>
<text class="t" font-size="18" text-anchor="middle" transform="translate(776.3,175.8) rotate(0) scale(1.07,1)">52.0</text>
<line x1="594.00" y1="282.42" x2="662.00" y2="282.42" stroke="#2b2b2b" stroke-width="1.0" />
<line x1="594.00" y1="645.88" x2="662.00" y2="645.88" stroke="#2b2b2b" stroke-width="1.0" />
<line x1="600.30" y1="284.12" x2="600.30" y2="454.30" stroke="#2b2b2b" stroke-width="1.0" />
<line x1="600.30" y1="471.50" x2="600.30" y2="643.68" stroke="#2b2b2b" stroke-width="1.0" />
<path d="M600.3,282.1163574608239 L602.5,294.6163574608239 L598.1,294.6163574608239 Z" fill="#111"/>
<path d="M600.3,645.6836425391759 L602.5,633.1836425391759 L598.1,633.1836425391759 Z" fill="#111"/>
<text class="t" font-size="18" text-anchor="middle" transform="translate(600.3,470.9) rotate(0) scale(1.035,1)">79.96</text>
<line x1="683.30" y1="645.68" x2="683.30" y2="767.50" stroke="#222" stroke-width="1.1" />
<line x1="870.60" y1="645.68" x2="870.60" y2="767.50" stroke="#222" stroke-width="1.1" />
<line x1="684.50" y1="762.90" x2="869.50" y2="762.90" stroke="#444" stroke-width="1.2" />
<path d="M683.2,762.9 L694.8,760.6 L694.8,765.2 Z" fill="#111"/>
<path d="M870.7,762.9 L859.1,760.6 L859.1,765.2 Z" fill="#111"/>
<text class="t" font-size="18" text-anchor="middle" transform="translate(776.5,760.4) rotate(0) scale(1.0,1)">41.96</text>
<path d="M738.8,300.5 L702.2,300.5 L686,286.5" stroke="#2b2b2b" stroke-width="1.0" fill="none" />
<path d="M685.2,285.8 L696.4,290.6 L692.6,294.5 Z" fill="#111"/>
<text class="t" font-size="16" text-anchor="middle" transform="translate(722.4,298.0) rotate(0) scale(1.11,1)">R2.5</text>
</svg>
</body>
</html>
